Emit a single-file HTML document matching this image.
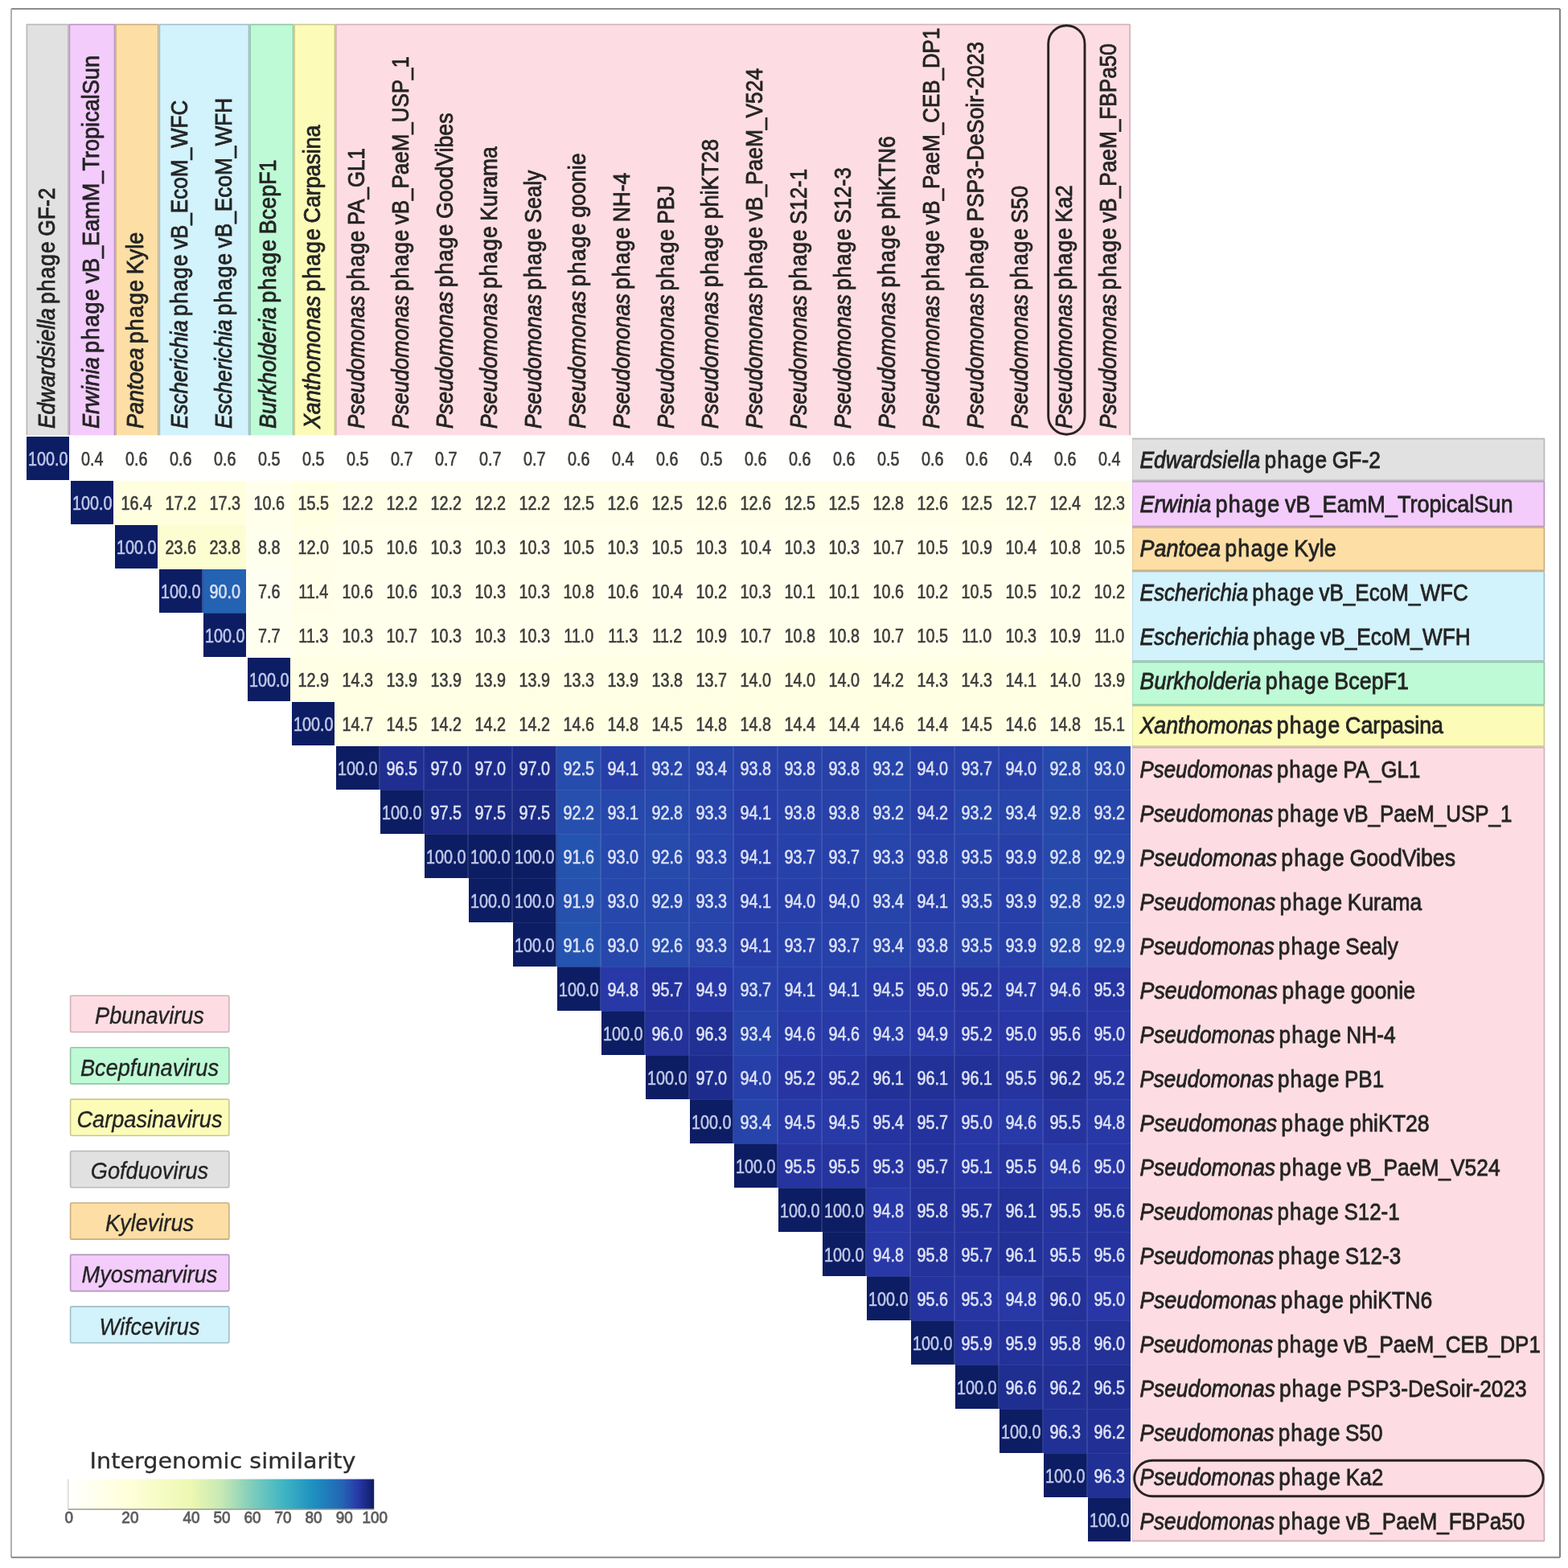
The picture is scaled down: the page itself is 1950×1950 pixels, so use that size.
<!DOCTYPE html>
<html><head><meta charset="utf-8"><title>Intergenomic similarity heatmap</title>
<style>html,body{margin:0;padding:0;background:#fff;width:1950px;height:1950px;overflow:hidden}svg{display:block}</style>
</head><body>
<svg width="1950" height="1950" viewBox="0 0 1950 1950">
<rect x="0" y="0" width="1950" height="1950" fill="#ffffff"/>
<line x1="14" y1="11" x2="1940" y2="11" stroke="#8c8c8c" stroke-width="1.8"/>
<line x1="14" y1="11" x2="14" y2="1936.7" stroke="#b0b0b0" stroke-width="2"/>
<line x1="1940" y1="11" x2="1940" y2="1936.7" stroke="#7a7a7a" stroke-width="1.9"/>
<line x1="14" y1="1936.7" x2="1940" y2="1936.7" stroke="#888888" stroke-width="1.9"/>
<rect x="32.60" y="29.70" width="53.00" height="511.60" fill="#e1e1e1"/>
<path d="M33.40,541.30 L33.40,30.50 L84.80,30.50 L84.80,541.30" fill="none" stroke="#b9b9b9" stroke-width="1.6" stroke-linejoin="round"/>
<rect x="85.60" y="29.70" width="57.70" height="511.60" fill="#f3ccfc"/>
<path d="M86.40,541.30 L86.40,30.50 L142.50,30.50 L142.50,541.30" fill="none" stroke="#b596bc" stroke-width="1.6" stroke-linejoin="round"/>
<rect x="143.30" y="29.70" width="54.30" height="511.60" fill="#fddfa5"/>
<path d="M144.10,541.30 L144.10,30.50 L196.80,30.50 L196.80,541.30" fill="none" stroke="#c9ad80" stroke-width="1.6" stroke-linejoin="round"/>
<rect x="197.60" y="29.70" width="112.70" height="511.60" fill="#d2f2fc"/>
<path d="M198.40,541.30 L198.40,30.50 L309.50,30.50 L309.50,541.30" fill="none" stroke="#a2bec6" stroke-width="1.6" stroke-linejoin="round"/>
<rect x="310.30" y="29.70" width="55.10" height="511.60" fill="#bdfad5"/>
<path d="M311.10,541.30 L311.10,30.50 L364.60,30.50 L364.60,541.30" fill="none" stroke="#92c4a6" stroke-width="1.6" stroke-linejoin="round"/>
<rect x="365.40" y="29.70" width="51.80" height="511.60" fill="#fcfcb8"/>
<path d="M366.20,541.30 L366.20,30.50 L416.40,30.50 L416.40,541.30" fill="none" stroke="#c8c890" stroke-width="1.6" stroke-linejoin="round"/>
<rect x="417.20" y="29.70" width="988.80" height="511.60" fill="#fddde3"/>
<path d="M418.00,541.30 L418.00,30.50 L1405.20,30.50 L1405.20,541.30" fill="none" stroke="#cfb2b8" stroke-width="1.6" stroke-linejoin="round"/>
<rect x="1408.00" y="544.80" width="513.20" height="53.40" fill="#e1e1e1"/>
<path d="M1408.00,545.60 L1920.40,545.60 L1920.40,597.40 L1408.00,597.40" fill="none" stroke="#b9b9b9" stroke-width="1.6" stroke-linejoin="round"/>
<line x1="1408.50" y1="546.40" x2="1408.50" y2="596.60" stroke="#b9b9b9" stroke-opacity="0.35" stroke-width="1"/>
<rect x="1408.00" y="598.20" width="513.20" height="57.10" fill="#f3ccfc"/>
<path d="M1408.00,599.00 L1920.40,599.00 L1920.40,654.50 L1408.00,654.50" fill="none" stroke="#b596bc" stroke-width="1.6" stroke-linejoin="round"/>
<line x1="1408.50" y1="599.80" x2="1408.50" y2="653.70" stroke="#b596bc" stroke-opacity="0.35" stroke-width="1"/>
<rect x="1408.00" y="655.30" width="513.20" height="54.70" fill="#fddfa5"/>
<path d="M1408.00,656.10 L1920.40,656.10 L1920.40,709.20 L1408.00,709.20" fill="none" stroke="#c9ad80" stroke-width="1.6" stroke-linejoin="round"/>
<line x1="1408.50" y1="656.90" x2="1408.50" y2="708.40" stroke="#c9ad80" stroke-opacity="0.35" stroke-width="1"/>
<rect x="1408.00" y="710.00" width="513.20" height="112.60" fill="#d2f2fc"/>
<path d="M1408.00,710.80 L1920.40,710.80 L1920.40,821.80 L1408.00,821.80" fill="none" stroke="#a2bec6" stroke-width="1.6" stroke-linejoin="round"/>
<line x1="1408.50" y1="711.60" x2="1408.50" y2="821.00" stroke="#a2bec6" stroke-opacity="0.35" stroke-width="1"/>
<rect x="1408.00" y="822.60" width="513.20" height="54.40" fill="#bdfad5"/>
<path d="M1408.00,823.40 L1920.40,823.40 L1920.40,876.20 L1408.00,876.20" fill="none" stroke="#92c4a6" stroke-width="1.6" stroke-linejoin="round"/>
<line x1="1408.50" y1="824.20" x2="1408.50" y2="875.40" stroke="#92c4a6" stroke-opacity="0.35" stroke-width="1"/>
<rect x="1408.00" y="877.00" width="513.20" height="51.80" fill="#fcfcb8"/>
<path d="M1408.00,877.80 L1920.40,877.80 L1920.40,928.00 L1408.00,928.00" fill="none" stroke="#c8c890" stroke-width="1.6" stroke-linejoin="round"/>
<line x1="1408.50" y1="878.60" x2="1408.50" y2="927.20" stroke="#c8c890" stroke-opacity="0.35" stroke-width="1"/>
<rect x="1408.00" y="928.80" width="513.20" height="988.40" fill="#fddde3"/>
<path d="M1408.00,929.60 L1920.40,929.60 L1920.40,1916.40 L1408.00,1916.40" fill="none" stroke="#cfb2b8" stroke-width="1.6" stroke-linejoin="round"/>
<line x1="1408.50" y1="930.40" x2="1408.50" y2="1915.60" stroke="#cfb2b8" stroke-opacity="0.35" stroke-width="1"/>
<g font-family="'Liberation Sans', Arial, sans-serif" font-size="29.0" fill="#242424" stroke="#242424" stroke-width="0.8">
<text transform="translate(68.43,533) rotate(-90) scale(0.9116,1)"><tspan font-style="italic">Edwardsiella</tspan><tspan word-spacing="-2.4"> </tspan><tspan letter-spacing="1.15">phage</tspan><tspan word-spacing="-2.0"> </tspan>GF-2</text>
<text transform="translate(123.43,533) rotate(-90) scale(0.9346,1)"><tspan font-style="italic">Erwinia</tspan><tspan word-spacing="-2.4"> </tspan><tspan letter-spacing="1.15">phage</tspan><tspan word-spacing="-2.0"> </tspan>vB_EamM_TropicalSun</text>
<text transform="translate(178.43,533) rotate(-90) scale(0.9305,1)"><tspan font-style="italic">Pantoea</tspan><tspan word-spacing="-2.4"> </tspan><tspan letter-spacing="1.15">phage</tspan><tspan word-spacing="-2.0"> </tspan>Kyle</text>
<text transform="translate(233.43,533) rotate(-90) scale(0.8988,1)"><tspan font-style="italic">Escherichia</tspan><tspan word-spacing="-2.4"> </tspan><tspan letter-spacing="1.15">phage</tspan><tspan word-spacing="-2.0"> </tspan>vB_EcoM_WFC</text>
<text transform="translate(288.43,533) rotate(-90) scale(0.9053,1)"><tspan font-style="italic">Escherichia</tspan><tspan word-spacing="-2.4"> </tspan><tspan letter-spacing="1.15">phage</tspan><tspan word-spacing="-2.0"> </tspan>vB_EcoM_WFH</text>
<text transform="translate(343.43,533) rotate(-90) scale(0.9274,1)"><tspan font-style="italic">Burkholderia</tspan><tspan word-spacing="-2.4"> </tspan><tspan letter-spacing="1.15">phage</tspan><tspan word-spacing="-2.0"> </tspan>BcepF1</text>
<text transform="translate(398.43,533) rotate(-90) scale(0.9227,1)"><tspan font-style="italic">Xanthomonas</tspan><tspan word-spacing="-2.4"> </tspan><tspan letter-spacing="1.15">phage</tspan><tspan word-spacing="-2.0"> </tspan>Carpasina</text>
<text transform="translate(453.43,533) rotate(-90) scale(0.8927,1)"><tspan font-style="italic">Pseudomonas</tspan><tspan word-spacing="-2.4"> </tspan><tspan letter-spacing="1.15">phage</tspan><tspan word-spacing="-2.0"> </tspan>PA_GL1</text>
<text transform="translate(508.43,533) rotate(-90) scale(0.8951,1)"><tspan font-style="italic">Pseudomonas</tspan><tspan word-spacing="-2.4"> </tspan><tspan letter-spacing="1.15">phage</tspan><tspan word-spacing="-2.0"> </tspan>vB_PaeM_USP_1</text>
<text transform="translate(563.43,533) rotate(-90) scale(0.9210,1)"><tspan font-style="italic">Pseudomonas</tspan><tspan word-spacing="-2.4"> </tspan><tspan letter-spacing="1.15">phage</tspan><tspan word-spacing="-2.0"> </tspan>GoodVibes</text>
<text transform="translate(618.43,533) rotate(-90) scale(0.9113,1)"><tspan font-style="italic">Pseudomonas</tspan><tspan word-spacing="-2.4"> </tspan><tspan letter-spacing="1.15">phage</tspan><tspan word-spacing="-2.0"> </tspan>Kurama</text>
<text transform="translate(673.43,533) rotate(-90) scale(0.9026,1)"><tspan font-style="italic">Pseudomonas</tspan><tspan word-spacing="-2.4"> </tspan><tspan letter-spacing="1.15">phage</tspan><tspan word-spacing="-2.0"> </tspan>Sealy</text>
<text transform="translate(728.43,533) rotate(-90) scale(0.9248,1)"><tspan font-style="italic">Pseudomonas</tspan><tspan word-spacing="-2.4"> </tspan><tspan letter-spacing="1.15">phage</tspan><tspan word-spacing="-2.0"> </tspan>goonie</text>
<text transform="translate(783.43,533) rotate(-90) scale(0.9065,1)"><tspan font-style="italic">Pseudomonas</tspan><tspan word-spacing="-2.4"> </tspan><tspan letter-spacing="1.15">phage</tspan><tspan word-spacing="-2.0"> </tspan>NH-4</text>
<text transform="translate(838.43,533) rotate(-90) scale(0.8979,1)"><tspan font-style="italic">Pseudomonas</tspan><tspan word-spacing="-2.4"> </tspan><tspan letter-spacing="1.15">phage</tspan><tspan word-spacing="-2.0"> </tspan>PBJ</text>
<text transform="translate(893.43,533) rotate(-90) scale(0.9200,1)"><tspan font-style="italic">Pseudomonas</tspan><tspan word-spacing="-2.4"> </tspan><tspan letter-spacing="1.15">phage</tspan><tspan word-spacing="-2.0"> </tspan>phiKT28</text>
<text transform="translate(948.43,533) rotate(-90) scale(0.9089,1)"><tspan font-style="italic">Pseudomonas</tspan><tspan word-spacing="-2.4"> </tspan><tspan letter-spacing="1.15">phage</tspan><tspan word-spacing="-2.0"> </tspan>vB_PaeM_V524</text>
<text transform="translate(1003.43,533) rotate(-90) scale(0.8960,1)"><tspan font-style="italic">Pseudomonas</tspan><tspan word-spacing="-2.4"> </tspan><tspan letter-spacing="1.15">phage</tspan><tspan word-spacing="-2.0"> </tspan>S12-1</text>
<text transform="translate(1058.43,533) rotate(-90) scale(0.9005,1)"><tspan font-style="italic">Pseudomonas</tspan><tspan word-spacing="-2.4"> </tspan><tspan letter-spacing="1.15">phage</tspan><tspan word-spacing="-2.0"> </tspan>S12-3</text>
<text transform="translate(1113.43,533) rotate(-90) scale(0.9180,1)"><tspan font-style="italic">Pseudomonas</tspan><tspan word-spacing="-2.4"> </tspan><tspan letter-spacing="1.15">phage</tspan><tspan word-spacing="-2.0"> </tspan>phiKTN6</text>
<text transform="translate(1168.43,533) rotate(-90) scale(0.8939,1)"><tspan font-style="italic">Pseudomonas</tspan><tspan word-spacing="-2.4"> </tspan><tspan letter-spacing="1.15">phage</tspan><tspan word-spacing="-2.0"> </tspan>vB_PaeM_CEB_DP1</text>
<text transform="translate(1223.43,533) rotate(-90) scale(0.9081,1)"><tspan font-style="italic">Pseudomonas</tspan><tspan word-spacing="-2.4"> </tspan><tspan letter-spacing="1.15">phage</tspan><tspan word-spacing="-2.0"> </tspan>PSP3-DeSoir-2023</text>
<text transform="translate(1278.43,533) rotate(-90) scale(0.9013,1)"><tspan font-style="italic">Pseudomonas</tspan><tspan word-spacing="-2.4"> </tspan><tspan letter-spacing="1.15">phage</tspan><tspan word-spacing="-2.0"> </tspan>S50</text>
<text transform="translate(1333.43,533) rotate(-90) scale(0.9043,1)"><tspan font-style="italic">Pseudomonas</tspan><tspan word-spacing="-2.4"> </tspan><tspan letter-spacing="1.15">phage</tspan><tspan word-spacing="-2.0"> </tspan>Ka2</text>
<text transform="translate(1388.43,533) rotate(-90) scale(0.9039,1)"><tspan font-style="italic">Pseudomonas</tspan><tspan word-spacing="-2.4"> </tspan><tspan letter-spacing="1.15">phage</tspan><tspan word-spacing="-2.0"> </tspan>vB_PaeM_FBPa50</text>
<text transform="translate(1417.5,581.73) scale(0.9116,1)"><tspan font-style="italic">Edwardsiella</tspan><tspan word-spacing="-2.4"> </tspan><tspan letter-spacing="1.15">phage</tspan><tspan word-spacing="-2.0"> </tspan>GF-2</text>
<text transform="translate(1417.5,636.73) scale(0.9346,1)"><tspan font-style="italic">Erwinia</tspan><tspan word-spacing="-2.4"> </tspan><tspan letter-spacing="1.15">phage</tspan><tspan word-spacing="-2.0"> </tspan>vB_EamM_TropicalSun</text>
<text transform="translate(1417.5,691.73) scale(0.9305,1)"><tspan font-style="italic">Pantoea</tspan><tspan word-spacing="-2.4"> </tspan><tspan letter-spacing="1.15">phage</tspan><tspan word-spacing="-2.0"> </tspan>Kyle</text>
<text transform="translate(1417.5,746.73) scale(0.8988,1)"><tspan font-style="italic">Escherichia</tspan><tspan word-spacing="-2.4"> </tspan><tspan letter-spacing="1.15">phage</tspan><tspan word-spacing="-2.0"> </tspan>vB_EcoM_WFC</text>
<text transform="translate(1417.5,801.73) scale(0.9053,1)"><tspan font-style="italic">Escherichia</tspan><tspan word-spacing="-2.4"> </tspan><tspan letter-spacing="1.15">phage</tspan><tspan word-spacing="-2.0"> </tspan>vB_EcoM_WFH</text>
<text transform="translate(1417.5,856.73) scale(0.9274,1)"><tspan font-style="italic">Burkholderia</tspan><tspan word-spacing="-2.4"> </tspan><tspan letter-spacing="1.15">phage</tspan><tspan word-spacing="-2.0"> </tspan>BcepF1</text>
<text transform="translate(1417.5,911.73) scale(0.9227,1)"><tspan font-style="italic">Xanthomonas</tspan><tspan word-spacing="-2.4"> </tspan><tspan letter-spacing="1.15">phage</tspan><tspan word-spacing="-2.0"> </tspan>Carpasina</text>
<text transform="translate(1417.5,966.73) scale(0.8927,1)"><tspan font-style="italic">Pseudomonas</tspan><tspan word-spacing="-2.4"> </tspan><tspan letter-spacing="1.15">phage</tspan><tspan word-spacing="-2.0"> </tspan>PA_GL1</text>
<text transform="translate(1417.5,1021.73) scale(0.8951,1)"><tspan font-style="italic">Pseudomonas</tspan><tspan word-spacing="-2.4"> </tspan><tspan letter-spacing="1.15">phage</tspan><tspan word-spacing="-2.0"> </tspan>vB_PaeM_USP_1</text>
<text transform="translate(1417.5,1076.73) scale(0.9210,1)"><tspan font-style="italic">Pseudomonas</tspan><tspan word-spacing="-2.4"> </tspan><tspan letter-spacing="1.15">phage</tspan><tspan word-spacing="-2.0"> </tspan>GoodVibes</text>
<text transform="translate(1417.5,1131.73) scale(0.9113,1)"><tspan font-style="italic">Pseudomonas</tspan><tspan word-spacing="-2.4"> </tspan><tspan letter-spacing="1.15">phage</tspan><tspan word-spacing="-2.0"> </tspan>Kurama</text>
<text transform="translate(1417.5,1186.73) scale(0.9026,1)"><tspan font-style="italic">Pseudomonas</tspan><tspan word-spacing="-2.4"> </tspan><tspan letter-spacing="1.15">phage</tspan><tspan word-spacing="-2.0"> </tspan>Sealy</text>
<text transform="translate(1417.5,1241.73) scale(0.9248,1)"><tspan font-style="italic">Pseudomonas</tspan><tspan word-spacing="-2.4"> </tspan><tspan letter-spacing="1.15">phage</tspan><tspan word-spacing="-2.0"> </tspan>goonie</text>
<text transform="translate(1417.5,1296.73) scale(0.9065,1)"><tspan font-style="italic">Pseudomonas</tspan><tspan word-spacing="-2.4"> </tspan><tspan letter-spacing="1.15">phage</tspan><tspan word-spacing="-2.0"> </tspan>NH-4</text>
<text transform="translate(1417.5,1351.73) scale(0.8979,1)"><tspan font-style="italic">Pseudomonas</tspan><tspan word-spacing="-2.4"> </tspan><tspan letter-spacing="1.15">phage</tspan><tspan word-spacing="-2.0"> </tspan>PB1</text>
<text transform="translate(1417.5,1406.73) scale(0.9200,1)"><tspan font-style="italic">Pseudomonas</tspan><tspan word-spacing="-2.4"> </tspan><tspan letter-spacing="1.15">phage</tspan><tspan word-spacing="-2.0"> </tspan>phiKT28</text>
<text transform="translate(1417.5,1461.73) scale(0.9089,1)"><tspan font-style="italic">Pseudomonas</tspan><tspan word-spacing="-2.4"> </tspan><tspan letter-spacing="1.15">phage</tspan><tspan word-spacing="-2.0"> </tspan>vB_PaeM_V524</text>
<text transform="translate(1417.5,1516.73) scale(0.8960,1)"><tspan font-style="italic">Pseudomonas</tspan><tspan word-spacing="-2.4"> </tspan><tspan letter-spacing="1.15">phage</tspan><tspan word-spacing="-2.0"> </tspan>S12-1</text>
<text transform="translate(1417.5,1571.73) scale(0.9005,1)"><tspan font-style="italic">Pseudomonas</tspan><tspan word-spacing="-2.4"> </tspan><tspan letter-spacing="1.15">phage</tspan><tspan word-spacing="-2.0"> </tspan>S12-3</text>
<text transform="translate(1417.5,1626.73) scale(0.9180,1)"><tspan font-style="italic">Pseudomonas</tspan><tspan word-spacing="-2.4"> </tspan><tspan letter-spacing="1.15">phage</tspan><tspan word-spacing="-2.0"> </tspan>phiKTN6</text>
<text transform="translate(1417.5,1681.73) scale(0.8939,1)"><tspan font-style="italic">Pseudomonas</tspan><tspan word-spacing="-2.4"> </tspan><tspan letter-spacing="1.15">phage</tspan><tspan word-spacing="-2.0"> </tspan>vB_PaeM_CEB_DP1</text>
<text transform="translate(1417.5,1736.73) scale(0.9081,1)"><tspan font-style="italic">Pseudomonas</tspan><tspan word-spacing="-2.4"> </tspan><tspan letter-spacing="1.15">phage</tspan><tspan word-spacing="-2.0"> </tspan>PSP3-DeSoir-2023</text>
<text transform="translate(1417.5,1791.73) scale(0.9013,1)"><tspan font-style="italic">Pseudomonas</tspan><tspan word-spacing="-2.4"> </tspan><tspan letter-spacing="1.15">phage</tspan><tspan word-spacing="-2.0"> </tspan>S50</text>
<text transform="translate(1417.5,1846.73) scale(0.9043,1)"><tspan font-style="italic">Pseudomonas</tspan><tspan word-spacing="-2.4"> </tspan><tspan letter-spacing="1.15">phage</tspan><tspan word-spacing="-2.0"> </tspan>Ka2</text>
<text transform="translate(1417.5,1901.73) scale(0.9039,1)"><tspan font-style="italic">Pseudomonas</tspan><tspan word-spacing="-2.4"> </tspan><tspan letter-spacing="1.15">phage</tspan><tspan word-spacing="-2.0"> </tspan>vB_PaeM_FBPa50</text>
</g>
<g shape-rendering="crispEdges"><rect x="32.5" y="543.0" width="53.5" height="53.5" fill="#0d1d64"/><rect x="86.0" y="543.0" width="1.5" height="53.5" fill="#fffffe"/><rect x="87.5" y="543.0" width="53.5" height="53.5" fill="#fffffe"/><rect x="141.0" y="543.0" width="1.5" height="53.5" fill="#fffffe"/><rect x="87.5" y="596.5" width="53.5" height="1.5" fill="#fffffe"/><rect x="141.0" y="596.5" width="1.5" height="1.5" fill="#fffffe"/><rect x="142.5" y="543.0" width="53.5" height="53.5" fill="#fffffe"/><rect x="196.0" y="543.0" width="1.5" height="53.5" fill="#fffffe"/><rect x="142.5" y="596.5" width="53.5" height="1.5" fill="#fffffe"/><rect x="196.0" y="596.5" width="1.5" height="1.5" fill="#fffffe"/><rect x="197.5" y="543.0" width="53.5" height="53.5" fill="#fffffe"/><rect x="251.0" y="543.0" width="1.5" height="53.5" fill="#fffffe"/><rect x="197.5" y="596.5" width="53.5" height="1.5" fill="#fffffe"/><rect x="251.0" y="596.5" width="1.5" height="1.5" fill="#fffffe"/><rect x="252.5" y="543.0" width="53.5" height="53.5" fill="#fffffe"/><rect x="306.0" y="543.0" width="1.5" height="53.5" fill="#fffffe"/><rect x="252.5" y="596.5" width="53.5" height="1.5" fill="#fffffe"/><rect x="306.0" y="596.5" width="1.5" height="1.5" fill="#fffffe"/><rect x="307.5" y="543.0" width="53.5" height="53.5" fill="#fffffe"/><rect x="361.0" y="543.0" width="1.5" height="53.5" fill="#fffffe"/><rect x="307.5" y="596.5" width="53.5" height="1.5" fill="#fffffe"/><rect x="361.0" y="596.5" width="1.5" height="1.5" fill="#fffffe"/><rect x="362.5" y="543.0" width="53.5" height="53.5" fill="#fffffe"/><rect x="416.0" y="543.0" width="1.5" height="53.5" fill="#fffffe"/><rect x="362.5" y="596.5" width="53.5" height="1.5" fill="#fffffe"/><rect x="416.0" y="596.5" width="1.5" height="1.5" fill="#fffffe"/><rect x="417.5" y="543.0" width="53.5" height="53.5" fill="#fffffe"/><rect x="471.0" y="543.0" width="1.5" height="53.5" fill="#fffffe"/><rect x="417.5" y="596.5" width="53.5" height="1.5" fill="#fffffe"/><rect x="471.0" y="596.5" width="1.5" height="1.5" fill="#fffffe"/><rect x="472.5" y="543.0" width="53.5" height="53.5" fill="#fffffe"/><rect x="526.0" y="543.0" width="1.5" height="53.5" fill="#fffffe"/><rect x="472.5" y="596.5" width="53.5" height="1.5" fill="#fffffe"/><rect x="526.0" y="596.5" width="1.5" height="1.5" fill="#fffffe"/><rect x="527.5" y="543.0" width="53.5" height="53.5" fill="#fffffe"/><rect x="581.0" y="543.0" width="1.5" height="53.5" fill="#fffffe"/><rect x="527.5" y="596.5" width="53.5" height="1.5" fill="#fffffe"/><rect x="581.0" y="596.5" width="1.5" height="1.5" fill="#fffffe"/><rect x="582.5" y="543.0" width="53.5" height="53.5" fill="#fffffe"/><rect x="636.0" y="543.0" width="1.5" height="53.5" fill="#fffffe"/><rect x="582.5" y="596.5" width="53.5" height="1.5" fill="#fffffe"/><rect x="636.0" y="596.5" width="1.5" height="1.5" fill="#fffffe"/><rect x="637.5" y="543.0" width="53.5" height="53.5" fill="#fffffe"/><rect x="691.0" y="543.0" width="1.5" height="53.5" fill="#fffffe"/><rect x="637.5" y="596.5" width="53.5" height="1.5" fill="#fffffe"/><rect x="691.0" y="596.5" width="1.5" height="1.5" fill="#fffffe"/><rect x="692.5" y="543.0" width="53.5" height="53.5" fill="#fffffe"/><rect x="746.0" y="543.0" width="1.5" height="53.5" fill="#fffffe"/><rect x="692.5" y="596.5" width="53.5" height="1.5" fill="#fffffe"/><rect x="746.0" y="596.5" width="1.5" height="1.5" fill="#fffffe"/><rect x="747.5" y="543.0" width="53.5" height="53.5" fill="#fffffe"/><rect x="801.0" y="543.0" width="1.5" height="53.5" fill="#fffffe"/><rect x="747.5" y="596.5" width="53.5" height="1.5" fill="#fffffe"/><rect x="801.0" y="596.5" width="1.5" height="1.5" fill="#fffffe"/><rect x="802.5" y="543.0" width="53.5" height="53.5" fill="#fffffe"/><rect x="856.0" y="543.0" width="1.5" height="53.5" fill="#fffffe"/><rect x="802.5" y="596.5" width="53.5" height="1.5" fill="#fffffe"/><rect x="856.0" y="596.5" width="1.5" height="1.5" fill="#fffffe"/><rect x="857.5" y="543.0" width="53.5" height="53.5" fill="#fffffe"/><rect x="911.0" y="543.0" width="1.5" height="53.5" fill="#fffffe"/><rect x="857.5" y="596.5" width="53.5" height="1.5" fill="#fffffe"/><rect x="911.0" y="596.5" width="1.5" height="1.5" fill="#fffffe"/><rect x="912.5" y="543.0" width="53.5" height="53.5" fill="#fffffe"/><rect x="966.0" y="543.0" width="1.5" height="53.5" fill="#fffffe"/><rect x="912.5" y="596.5" width="53.5" height="1.5" fill="#fffffe"/><rect x="966.0" y="596.5" width="1.5" height="1.5" fill="#fffffe"/><rect x="967.5" y="543.0" width="53.5" height="53.5" fill="#fffffe"/><rect x="1021.0" y="543.0" width="1.5" height="53.5" fill="#fffffe"/><rect x="967.5" y="596.5" width="53.5" height="1.5" fill="#fffffe"/><rect x="1021.0" y="596.5" width="1.5" height="1.5" fill="#fffffe"/><rect x="1022.5" y="543.0" width="53.5" height="53.5" fill="#fffffe"/><rect x="1076.0" y="543.0" width="1.5" height="53.5" fill="#fffffe"/><rect x="1022.5" y="596.5" width="53.5" height="1.5" fill="#fffffe"/><rect x="1076.0" y="596.5" width="1.5" height="1.5" fill="#fffffe"/><rect x="1077.5" y="543.0" width="53.5" height="53.5" fill="#fffffe"/><rect x="1131.0" y="543.0" width="1.5" height="53.5" fill="#fffffe"/><rect x="1077.5" y="596.5" width="53.5" height="1.5" fill="#fffffe"/><rect x="1131.0" y="596.5" width="1.5" height="1.5" fill="#fffffe"/><rect x="1132.5" y="543.0" width="53.5" height="53.5" fill="#fffffe"/><rect x="1186.0" y="543.0" width="1.5" height="53.5" fill="#fffffe"/><rect x="1132.5" y="596.5" width="53.5" height="1.5" fill="#fffffe"/><rect x="1186.0" y="596.5" width="1.5" height="1.5" fill="#fffffe"/><rect x="1187.5" y="543.0" width="53.5" height="53.5" fill="#fffffe"/><rect x="1241.0" y="543.0" width="1.5" height="53.5" fill="#fffffe"/><rect x="1187.5" y="596.5" width="53.5" height="1.5" fill="#fffffe"/><rect x="1241.0" y="596.5" width="1.5" height="1.5" fill="#fffffe"/><rect x="1242.5" y="543.0" width="53.5" height="53.5" fill="#fffffe"/><rect x="1296.0" y="543.0" width="1.5" height="53.5" fill="#fffffe"/><rect x="1242.5" y="596.5" width="53.5" height="1.5" fill="#fffffe"/><rect x="1296.0" y="596.5" width="1.5" height="1.5" fill="#fffffe"/><rect x="1297.5" y="543.0" width="53.5" height="53.5" fill="#fffffe"/><rect x="1351.0" y="543.0" width="1.5" height="53.5" fill="#fffffe"/><rect x="1297.5" y="596.5" width="53.5" height="1.5" fill="#fffffe"/><rect x="1351.0" y="596.5" width="1.5" height="1.5" fill="#fffffe"/><rect x="1352.5" y="543.0" width="53.5" height="53.5" fill="#fffffe"/><rect x="1352.5" y="596.5" width="53.5" height="1.5" fill="#fffffe"/><rect x="87.5" y="598.0" width="53.5" height="53.5" fill="#0d1d64"/><rect x="141.0" y="598.0" width="1.5" height="53.5" fill="#ffffe0"/><rect x="142.5" y="598.0" width="53.5" height="53.5" fill="#ffffe0"/><rect x="196.0" y="598.0" width="1.5" height="53.5" fill="#ffffe0"/><rect x="142.5" y="651.5" width="53.5" height="1.5" fill="#ffffe9"/><rect x="196.0" y="651.5" width="1.5" height="1.5" fill="#ffffe0"/><rect x="197.5" y="598.0" width="53.5" height="53.5" fill="#ffffde"/><rect x="251.0" y="598.0" width="1.5" height="53.5" fill="#ffffde"/><rect x="197.5" y="651.5" width="53.5" height="1.5" fill="#ffffde"/><rect x="251.0" y="651.5" width="1.5" height="1.5" fill="#ffffde"/><rect x="252.5" y="598.0" width="53.5" height="53.5" fill="#ffffde"/><rect x="306.0" y="598.0" width="1.5" height="53.5" fill="#ffffeb"/><rect x="252.5" y="651.5" width="53.5" height="1.5" fill="#ffffde"/><rect x="306.0" y="651.5" width="1.5" height="1.5" fill="#ffffee"/><rect x="307.5" y="598.0" width="53.5" height="53.5" fill="#ffffeb"/><rect x="361.0" y="598.0" width="1.5" height="53.5" fill="#ffffeb"/><rect x="307.5" y="651.5" width="53.5" height="1.5" fill="#ffffeb"/><rect x="361.0" y="651.5" width="1.5" height="1.5" fill="#ffffee"/><rect x="362.5" y="598.0" width="53.5" height="53.5" fill="#ffffe2"/><rect x="416.0" y="598.0" width="1.5" height="53.5" fill="#ffffe8"/><rect x="362.5" y="651.5" width="53.5" height="1.5" fill="#ffffe2"/><rect x="416.0" y="651.5" width="1.5" height="1.5" fill="#ffffeb"/><rect x="417.5" y="598.0" width="53.5" height="53.5" fill="#ffffe8"/><rect x="471.0" y="598.0" width="1.5" height="53.5" fill="#ffffe8"/><rect x="417.5" y="651.5" width="53.5" height="1.5" fill="#ffffe8"/><rect x="471.0" y="651.5" width="1.5" height="1.5" fill="#ffffeb"/><rect x="472.5" y="598.0" width="53.5" height="53.5" fill="#ffffe8"/><rect x="526.0" y="598.0" width="1.5" height="53.5" fill="#ffffe8"/><rect x="472.5" y="651.5" width="53.5" height="1.5" fill="#ffffe8"/><rect x="526.0" y="651.5" width="1.5" height="1.5" fill="#ffffeb"/><rect x="527.5" y="598.0" width="53.5" height="53.5" fill="#ffffe8"/><rect x="581.0" y="598.0" width="1.5" height="53.5" fill="#ffffe8"/><rect x="527.5" y="651.5" width="53.5" height="1.5" fill="#ffffe8"/><rect x="581.0" y="651.5" width="1.5" height="1.5" fill="#ffffeb"/><rect x="582.5" y="598.0" width="53.5" height="53.5" fill="#ffffe8"/><rect x="636.0" y="598.0" width="1.5" height="53.5" fill="#ffffe8"/><rect x="582.5" y="651.5" width="53.5" height="1.5" fill="#ffffe8"/><rect x="636.0" y="651.5" width="1.5" height="1.5" fill="#ffffeb"/><rect x="637.5" y="598.0" width="53.5" height="53.5" fill="#ffffe8"/><rect x="691.0" y="598.0" width="1.5" height="53.5" fill="#ffffe8"/><rect x="637.5" y="651.5" width="53.5" height="1.5" fill="#ffffe8"/><rect x="691.0" y="651.5" width="1.5" height="1.5" fill="#ffffeb"/><rect x="692.5" y="598.0" width="53.5" height="53.5" fill="#ffffe7"/><rect x="746.0" y="598.0" width="1.5" height="53.5" fill="#ffffe7"/><rect x="692.5" y="651.5" width="53.5" height="1.5" fill="#ffffe7"/><rect x="746.0" y="651.5" width="1.5" height="1.5" fill="#ffffeb"/><rect x="747.5" y="598.0" width="53.5" height="53.5" fill="#ffffe7"/><rect x="801.0" y="598.0" width="1.5" height="53.5" fill="#ffffe7"/><rect x="747.5" y="651.5" width="53.5" height="1.5" fill="#ffffe7"/><rect x="801.0" y="651.5" width="1.5" height="1.5" fill="#ffffeb"/><rect x="802.5" y="598.0" width="53.5" height="53.5" fill="#ffffe7"/><rect x="856.0" y="598.0" width="1.5" height="53.5" fill="#ffffe7"/><rect x="802.5" y="651.5" width="53.5" height="1.5" fill="#ffffe7"/><rect x="856.0" y="651.5" width="1.5" height="1.5" fill="#ffffeb"/><rect x="857.5" y="598.0" width="53.5" height="53.5" fill="#ffffe7"/><rect x="911.0" y="598.0" width="1.5" height="53.5" fill="#ffffe7"/><rect x="857.5" y="651.5" width="53.5" height="1.5" fill="#ffffe7"/><rect x="911.0" y="651.5" width="1.5" height="1.5" fill="#ffffeb"/><rect x="912.5" y="598.0" width="53.5" height="53.5" fill="#ffffe7"/><rect x="966.0" y="598.0" width="1.5" height="53.5" fill="#ffffe7"/><rect x="912.5" y="651.5" width="53.5" height="1.5" fill="#ffffe7"/><rect x="966.0" y="651.5" width="1.5" height="1.5" fill="#ffffeb"/><rect x="967.5" y="598.0" width="53.5" height="53.5" fill="#ffffe7"/><rect x="1021.0" y="598.0" width="1.5" height="53.5" fill="#ffffe7"/><rect x="967.5" y="651.5" width="53.5" height="1.5" fill="#ffffe7"/><rect x="1021.0" y="651.5" width="1.5" height="1.5" fill="#ffffeb"/><rect x="1022.5" y="598.0" width="53.5" height="53.5" fill="#ffffe7"/><rect x="1076.0" y="598.0" width="1.5" height="53.5" fill="#ffffe7"/><rect x="1022.5" y="651.5" width="53.5" height="1.5" fill="#ffffe7"/><rect x="1076.0" y="651.5" width="1.5" height="1.5" fill="#ffffeb"/><rect x="1077.5" y="598.0" width="53.5" height="53.5" fill="#ffffe7"/><rect x="1131.0" y="598.0" width="1.5" height="53.5" fill="#ffffe7"/><rect x="1077.5" y="651.5" width="53.5" height="1.5" fill="#ffffe7"/><rect x="1131.0" y="651.5" width="1.5" height="1.5" fill="#ffffeb"/><rect x="1132.5" y="598.0" width="53.5" height="53.5" fill="#ffffe7"/><rect x="1186.0" y="598.0" width="1.5" height="53.5" fill="#ffffe7"/><rect x="1132.5" y="651.5" width="53.5" height="1.5" fill="#ffffe7"/><rect x="1186.0" y="651.5" width="1.5" height="1.5" fill="#ffffeb"/><rect x="1187.5" y="598.0" width="53.5" height="53.5" fill="#ffffe7"/><rect x="1241.0" y="598.0" width="1.5" height="53.5" fill="#ffffe7"/><rect x="1187.5" y="651.5" width="53.5" height="1.5" fill="#ffffe7"/><rect x="1241.0" y="651.5" width="1.5" height="1.5" fill="#ffffeb"/><rect x="1242.5" y="598.0" width="53.5" height="53.5" fill="#ffffe7"/><rect x="1296.0" y="598.0" width="1.5" height="53.5" fill="#ffffe7"/><rect x="1242.5" y="651.5" width="53.5" height="1.5" fill="#ffffe7"/><rect x="1296.0" y="651.5" width="1.5" height="1.5" fill="#ffffeb"/><rect x="1297.5" y="598.0" width="53.5" height="53.5" fill="#ffffe7"/><rect x="1351.0" y="598.0" width="1.5" height="53.5" fill="#ffffe8"/><rect x="1297.5" y="651.5" width="53.5" height="1.5" fill="#ffffe7"/><rect x="1351.0" y="651.5" width="1.5" height="1.5" fill="#ffffeb"/><rect x="1352.5" y="598.0" width="53.5" height="53.5" fill="#ffffe8"/><rect x="1352.5" y="651.5" width="53.5" height="1.5" fill="#ffffe8"/><rect x="142.5" y="653.0" width="53.5" height="53.5" fill="#0d1d64"/><rect x="196.0" y="653.0" width="1.5" height="53.5" fill="#fcfed2"/><rect x="197.5" y="653.0" width="53.5" height="53.5" fill="#fcfed2"/><rect x="251.0" y="653.0" width="1.5" height="53.5" fill="#fcfed2"/><rect x="197.5" y="706.5" width="53.5" height="1.5" fill="#fdfee0"/><rect x="251.0" y="706.5" width="1.5" height="1.5" fill="#fcfed2"/><rect x="252.5" y="653.0" width="53.5" height="53.5" fill="#fcfed1"/><rect x="306.0" y="653.0" width="1.5" height="53.5" fill="#ffffee"/><rect x="252.5" y="706.5" width="53.5" height="1.5" fill="#fdfedf"/><rect x="306.0" y="706.5" width="1.5" height="1.5" fill="#fffff1"/><rect x="307.5" y="653.0" width="53.5" height="53.5" fill="#ffffee"/><rect x="361.0" y="653.0" width="1.5" height="53.5" fill="#ffffee"/><rect x="307.5" y="706.5" width="53.5" height="1.5" fill="#ffffee"/><rect x="361.0" y="706.5" width="1.5" height="1.5" fill="#fffff1"/><rect x="362.5" y="653.0" width="53.5" height="53.5" fill="#ffffe8"/><rect x="416.0" y="653.0" width="1.5" height="53.5" fill="#ffffeb"/><rect x="362.5" y="706.5" width="53.5" height="1.5" fill="#ffffe8"/><rect x="416.0" y="706.5" width="1.5" height="1.5" fill="#ffffeb"/><rect x="417.5" y="653.0" width="53.5" height="53.5" fill="#ffffeb"/><rect x="471.0" y="653.0" width="1.5" height="53.5" fill="#ffffeb"/><rect x="417.5" y="706.5" width="53.5" height="1.5" fill="#ffffeb"/><rect x="471.0" y="706.5" width="1.5" height="1.5" fill="#ffffeb"/><rect x="472.5" y="653.0" width="53.5" height="53.5" fill="#ffffeb"/><rect x="526.0" y="653.0" width="1.5" height="53.5" fill="#ffffeb"/><rect x="472.5" y="706.5" width="53.5" height="1.5" fill="#ffffeb"/><rect x="526.0" y="706.5" width="1.5" height="1.5" fill="#ffffeb"/><rect x="527.5" y="653.0" width="53.5" height="53.5" fill="#ffffeb"/><rect x="581.0" y="653.0" width="1.5" height="53.5" fill="#ffffeb"/><rect x="527.5" y="706.5" width="53.5" height="1.5" fill="#ffffeb"/><rect x="581.0" y="706.5" width="1.5" height="1.5" fill="#ffffeb"/><rect x="582.5" y="653.0" width="53.5" height="53.5" fill="#ffffeb"/><rect x="636.0" y="653.0" width="1.5" height="53.5" fill="#ffffeb"/><rect x="582.5" y="706.5" width="53.5" height="1.5" fill="#ffffeb"/><rect x="636.0" y="706.5" width="1.5" height="1.5" fill="#ffffeb"/><rect x="637.5" y="653.0" width="53.5" height="53.5" fill="#ffffeb"/><rect x="691.0" y="653.0" width="1.5" height="53.5" fill="#ffffeb"/><rect x="637.5" y="706.5" width="53.5" height="1.5" fill="#ffffeb"/><rect x="691.0" y="706.5" width="1.5" height="1.5" fill="#ffffeb"/><rect x="692.5" y="653.0" width="53.5" height="53.5" fill="#ffffeb"/><rect x="746.0" y="653.0" width="1.5" height="53.5" fill="#ffffeb"/><rect x="692.5" y="706.5" width="53.5" height="1.5" fill="#ffffeb"/><rect x="746.0" y="706.5" width="1.5" height="1.5" fill="#ffffeb"/><rect x="747.5" y="653.0" width="53.5" height="53.5" fill="#ffffeb"/><rect x="801.0" y="653.0" width="1.5" height="53.5" fill="#ffffeb"/><rect x="747.5" y="706.5" width="53.5" height="1.5" fill="#ffffeb"/><rect x="801.0" y="706.5" width="1.5" height="1.5" fill="#ffffeb"/><rect x="802.5" y="653.0" width="53.5" height="53.5" fill="#ffffeb"/><rect x="856.0" y="653.0" width="1.5" height="53.5" fill="#ffffeb"/><rect x="802.5" y="706.5" width="53.5" height="1.5" fill="#ffffeb"/><rect x="856.0" y="706.5" width="1.5" height="1.5" fill="#ffffec"/><rect x="857.5" y="653.0" width="53.5" height="53.5" fill="#ffffeb"/><rect x="911.0" y="653.0" width="1.5" height="53.5" fill="#ffffeb"/><rect x="857.5" y="706.5" width="53.5" height="1.5" fill="#ffffeb"/><rect x="911.0" y="706.5" width="1.5" height="1.5" fill="#ffffec"/><rect x="912.5" y="653.0" width="53.5" height="53.5" fill="#ffffeb"/><rect x="966.0" y="653.0" width="1.5" height="53.5" fill="#ffffeb"/><rect x="912.5" y="706.5" width="53.5" height="1.5" fill="#ffffeb"/><rect x="966.0" y="706.5" width="1.5" height="1.5" fill="#ffffec"/><rect x="967.5" y="653.0" width="53.5" height="53.5" fill="#ffffeb"/><rect x="1021.0" y="653.0" width="1.5" height="53.5" fill="#ffffeb"/><rect x="967.5" y="706.5" width="53.5" height="1.5" fill="#ffffeb"/><rect x="1021.0" y="706.5" width="1.5" height="1.5" fill="#ffffec"/><rect x="1022.5" y="653.0" width="53.5" height="53.5" fill="#ffffeb"/><rect x="1076.0" y="653.0" width="1.5" height="53.5" fill="#ffffeb"/><rect x="1022.5" y="706.5" width="53.5" height="1.5" fill="#ffffeb"/><rect x="1076.0" y="706.5" width="1.5" height="1.5" fill="#ffffec"/><rect x="1077.5" y="653.0" width="53.5" height="53.5" fill="#ffffeb"/><rect x="1131.0" y="653.0" width="1.5" height="53.5" fill="#ffffeb"/><rect x="1077.5" y="706.5" width="53.5" height="1.5" fill="#ffffeb"/><rect x="1131.0" y="706.5" width="1.5" height="1.5" fill="#ffffec"/><rect x="1132.5" y="653.0" width="53.5" height="53.5" fill="#ffffeb"/><rect x="1186.0" y="653.0" width="1.5" height="53.5" fill="#ffffeb"/><rect x="1132.5" y="706.5" width="53.5" height="1.5" fill="#ffffeb"/><rect x="1186.0" y="706.5" width="1.5" height="1.5" fill="#ffffec"/><rect x="1187.5" y="653.0" width="53.5" height="53.5" fill="#ffffea"/><rect x="1241.0" y="653.0" width="1.5" height="53.5" fill="#ffffeb"/><rect x="1187.5" y="706.5" width="53.5" height="1.5" fill="#ffffea"/><rect x="1241.0" y="706.5" width="1.5" height="1.5" fill="#ffffeb"/><rect x="1242.5" y="653.0" width="53.5" height="53.5" fill="#ffffeb"/><rect x="1296.0" y="653.0" width="1.5" height="53.5" fill="#ffffeb"/><rect x="1242.5" y="706.5" width="53.5" height="1.5" fill="#ffffeb"/><rect x="1296.0" y="706.5" width="1.5" height="1.5" fill="#ffffec"/><rect x="1297.5" y="653.0" width="53.5" height="53.5" fill="#ffffea"/><rect x="1351.0" y="653.0" width="1.5" height="53.5" fill="#ffffeb"/><rect x="1297.5" y="706.5" width="53.5" height="1.5" fill="#ffffea"/><rect x="1351.0" y="706.5" width="1.5" height="1.5" fill="#ffffec"/><rect x="1352.5" y="653.0" width="53.5" height="53.5" fill="#ffffeb"/><rect x="1352.5" y="706.5" width="53.5" height="1.5" fill="#ffffeb"/><rect x="197.5" y="708.0" width="53.5" height="53.5" fill="#0d1d64"/><rect x="251.0" y="708.0" width="1.5" height="53.5" fill="#305398"/><rect x="252.5" y="708.0" width="53.5" height="53.5" fill="#2462b4"/><rect x="306.0" y="708.0" width="1.5" height="53.5" fill="#fffff1"/><rect x="252.5" y="761.5" width="53.5" height="1.5" fill="#294d94"/><rect x="306.0" y="761.5" width="1.5" height="1.5" fill="#fffff1"/><rect x="307.5" y="708.0" width="53.5" height="53.5" fill="#fffff1"/><rect x="361.0" y="708.0" width="1.5" height="53.5" fill="#fffff1"/><rect x="307.5" y="761.5" width="53.5" height="1.5" fill="#fffff1"/><rect x="361.0" y="761.5" width="1.5" height="1.5" fill="#fffff1"/><rect x="362.5" y="708.0" width="53.5" height="53.5" fill="#ffffe9"/><rect x="416.0" y="708.0" width="1.5" height="53.5" fill="#ffffeb"/><rect x="362.5" y="761.5" width="53.5" height="1.5" fill="#ffffe9"/><rect x="416.0" y="761.5" width="1.5" height="1.5" fill="#ffffeb"/><rect x="417.5" y="708.0" width="53.5" height="53.5" fill="#ffffeb"/><rect x="471.0" y="708.0" width="1.5" height="53.5" fill="#ffffeb"/><rect x="417.5" y="761.5" width="53.5" height="1.5" fill="#ffffeb"/><rect x="471.0" y="761.5" width="1.5" height="1.5" fill="#ffffeb"/><rect x="472.5" y="708.0" width="53.5" height="53.5" fill="#ffffeb"/><rect x="526.0" y="708.0" width="1.5" height="53.5" fill="#ffffeb"/><rect x="472.5" y="761.5" width="53.5" height="1.5" fill="#ffffeb"/><rect x="526.0" y="761.5" width="1.5" height="1.5" fill="#ffffeb"/><rect x="527.5" y="708.0" width="53.5" height="53.5" fill="#ffffeb"/><rect x="581.0" y="708.0" width="1.5" height="53.5" fill="#ffffeb"/><rect x="527.5" y="761.5" width="53.5" height="1.5" fill="#ffffeb"/><rect x="581.0" y="761.5" width="1.5" height="1.5" fill="#ffffeb"/><rect x="582.5" y="708.0" width="53.5" height="53.5" fill="#ffffeb"/><rect x="636.0" y="708.0" width="1.5" height="53.5" fill="#ffffeb"/><rect x="582.5" y="761.5" width="53.5" height="1.5" fill="#ffffeb"/><rect x="636.0" y="761.5" width="1.5" height="1.5" fill="#ffffeb"/><rect x="637.5" y="708.0" width="53.5" height="53.5" fill="#ffffeb"/><rect x="691.0" y="708.0" width="1.5" height="53.5" fill="#ffffeb"/><rect x="637.5" y="761.5" width="53.5" height="1.5" fill="#ffffeb"/><rect x="691.0" y="761.5" width="1.5" height="1.5" fill="#ffffeb"/><rect x="692.5" y="708.0" width="53.5" height="53.5" fill="#ffffea"/><rect x="746.0" y="708.0" width="1.5" height="53.5" fill="#ffffeb"/><rect x="692.5" y="761.5" width="53.5" height="1.5" fill="#ffffea"/><rect x="746.0" y="761.5" width="1.5" height="1.5" fill="#ffffeb"/><rect x="747.5" y="708.0" width="53.5" height="53.5" fill="#ffffeb"/><rect x="801.0" y="708.0" width="1.5" height="53.5" fill="#ffffeb"/><rect x="747.5" y="761.5" width="53.5" height="1.5" fill="#ffffeb"/><rect x="801.0" y="761.5" width="1.5" height="1.5" fill="#ffffeb"/><rect x="802.5" y="708.0" width="53.5" height="53.5" fill="#ffffeb"/><rect x="856.0" y="708.0" width="1.5" height="53.5" fill="#ffffec"/><rect x="802.5" y="761.5" width="53.5" height="1.5" fill="#ffffeb"/><rect x="856.0" y="761.5" width="1.5" height="1.5" fill="#ffffec"/><rect x="857.5" y="708.0" width="53.5" height="53.5" fill="#ffffec"/><rect x="911.0" y="708.0" width="1.5" height="53.5" fill="#ffffec"/><rect x="857.5" y="761.5" width="53.5" height="1.5" fill="#ffffec"/><rect x="911.0" y="761.5" width="1.5" height="1.5" fill="#ffffec"/><rect x="912.5" y="708.0" width="53.5" height="53.5" fill="#ffffeb"/><rect x="966.0" y="708.0" width="1.5" height="53.5" fill="#ffffec"/><rect x="912.5" y="761.5" width="53.5" height="1.5" fill="#ffffeb"/><rect x="966.0" y="761.5" width="1.5" height="1.5" fill="#ffffec"/><rect x="967.5" y="708.0" width="53.5" height="53.5" fill="#ffffec"/><rect x="1021.0" y="708.0" width="1.5" height="53.5" fill="#ffffec"/><rect x="967.5" y="761.5" width="53.5" height="1.5" fill="#ffffec"/><rect x="1021.0" y="761.5" width="1.5" height="1.5" fill="#ffffec"/><rect x="1022.5" y="708.0" width="53.5" height="53.5" fill="#ffffec"/><rect x="1076.0" y="708.0" width="1.5" height="53.5" fill="#ffffec"/><rect x="1022.5" y="761.5" width="53.5" height="1.5" fill="#ffffec"/><rect x="1076.0" y="761.5" width="1.5" height="1.5" fill="#ffffec"/><rect x="1077.5" y="708.0" width="53.5" height="53.5" fill="#ffffeb"/><rect x="1131.0" y="708.0" width="1.5" height="53.5" fill="#ffffec"/><rect x="1077.5" y="761.5" width="53.5" height="1.5" fill="#ffffeb"/><rect x="1131.0" y="761.5" width="1.5" height="1.5" fill="#ffffec"/><rect x="1132.5" y="708.0" width="53.5" height="53.5" fill="#ffffec"/><rect x="1186.0" y="708.0" width="1.5" height="53.5" fill="#ffffec"/><rect x="1132.5" y="761.5" width="53.5" height="1.5" fill="#ffffec"/><rect x="1186.0" y="761.5" width="1.5" height="1.5" fill="#ffffec"/><rect x="1187.5" y="708.0" width="53.5" height="53.5" fill="#ffffeb"/><rect x="1241.0" y="708.0" width="1.5" height="53.5" fill="#ffffeb"/><rect x="1187.5" y="761.5" width="53.5" height="1.5" fill="#ffffeb"/><rect x="1241.0" y="761.5" width="1.5" height="1.5" fill="#ffffeb"/><rect x="1242.5" y="708.0" width="53.5" height="53.5" fill="#ffffeb"/><rect x="1296.0" y="708.0" width="1.5" height="53.5" fill="#ffffec"/><rect x="1242.5" y="761.5" width="53.5" height="1.5" fill="#ffffeb"/><rect x="1296.0" y="761.5" width="1.5" height="1.5" fill="#ffffec"/><rect x="1297.5" y="708.0" width="53.5" height="53.5" fill="#ffffec"/><rect x="1351.0" y="708.0" width="1.5" height="53.5" fill="#ffffec"/><rect x="1297.5" y="761.5" width="53.5" height="1.5" fill="#ffffec"/><rect x="1351.0" y="761.5" width="1.5" height="1.5" fill="#ffffec"/><rect x="1352.5" y="708.0" width="53.5" height="53.5" fill="#ffffec"/><rect x="1352.5" y="761.5" width="53.5" height="1.5" fill="#ffffec"/><rect x="252.5" y="763.0" width="53.5" height="53.5" fill="#0d1d64"/><rect x="306.0" y="763.0" width="1.5" height="53.5" fill="#fffff0"/><rect x="307.5" y="763.0" width="53.5" height="53.5" fill="#fffff0"/><rect x="361.0" y="763.0" width="1.5" height="53.5" fill="#fffff0"/><rect x="307.5" y="816.5" width="53.5" height="1.5" fill="#fffff4"/><rect x="361.0" y="816.5" width="1.5" height="1.5" fill="#fffff0"/><rect x="362.5" y="763.0" width="53.5" height="53.5" fill="#ffffea"/><rect x="416.0" y="763.0" width="1.5" height="53.5" fill="#ffffeb"/><rect x="362.5" y="816.5" width="53.5" height="1.5" fill="#ffffea"/><rect x="416.0" y="816.5" width="1.5" height="1.5" fill="#ffffeb"/><rect x="417.5" y="763.0" width="53.5" height="53.5" fill="#ffffeb"/><rect x="471.0" y="763.0" width="1.5" height="53.5" fill="#ffffeb"/><rect x="417.5" y="816.5" width="53.5" height="1.5" fill="#ffffeb"/><rect x="471.0" y="816.5" width="1.5" height="1.5" fill="#ffffeb"/><rect x="472.5" y="763.0" width="53.5" height="53.5" fill="#ffffeb"/><rect x="526.0" y="763.0" width="1.5" height="53.5" fill="#ffffeb"/><rect x="472.5" y="816.5" width="53.5" height="1.5" fill="#ffffeb"/><rect x="526.0" y="816.5" width="1.5" height="1.5" fill="#ffffeb"/><rect x="527.5" y="763.0" width="53.5" height="53.5" fill="#ffffeb"/><rect x="581.0" y="763.0" width="1.5" height="53.5" fill="#ffffeb"/><rect x="527.5" y="816.5" width="53.5" height="1.5" fill="#ffffeb"/><rect x="581.0" y="816.5" width="1.5" height="1.5" fill="#ffffeb"/><rect x="582.5" y="763.0" width="53.5" height="53.5" fill="#ffffeb"/><rect x="636.0" y="763.0" width="1.5" height="53.5" fill="#ffffeb"/><rect x="582.5" y="816.5" width="53.5" height="1.5" fill="#ffffeb"/><rect x="636.0" y="816.5" width="1.5" height="1.5" fill="#ffffeb"/><rect x="637.5" y="763.0" width="53.5" height="53.5" fill="#ffffeb"/><rect x="691.0" y="763.0" width="1.5" height="53.5" fill="#ffffeb"/><rect x="637.5" y="816.5" width="53.5" height="1.5" fill="#ffffeb"/><rect x="691.0" y="816.5" width="1.5" height="1.5" fill="#ffffeb"/><rect x="692.5" y="763.0" width="53.5" height="53.5" fill="#ffffea"/><rect x="746.0" y="763.0" width="1.5" height="53.5" fill="#ffffea"/><rect x="692.5" y="816.5" width="53.5" height="1.5" fill="#ffffea"/><rect x="746.0" y="816.5" width="1.5" height="1.5" fill="#ffffea"/><rect x="747.5" y="763.0" width="53.5" height="53.5" fill="#ffffea"/><rect x="801.0" y="763.0" width="1.5" height="53.5" fill="#ffffea"/><rect x="747.5" y="816.5" width="53.5" height="1.5" fill="#ffffea"/><rect x="801.0" y="816.5" width="1.5" height="1.5" fill="#ffffea"/><rect x="802.5" y="763.0" width="53.5" height="53.5" fill="#ffffea"/><rect x="856.0" y="763.0" width="1.5" height="53.5" fill="#ffffea"/><rect x="802.5" y="816.5" width="53.5" height="1.5" fill="#ffffea"/><rect x="856.0" y="816.5" width="1.5" height="1.5" fill="#ffffea"/><rect x="857.5" y="763.0" width="53.5" height="53.5" fill="#ffffea"/><rect x="911.0" y="763.0" width="1.5" height="53.5" fill="#ffffeb"/><rect x="857.5" y="816.5" width="53.5" height="1.5" fill="#ffffea"/><rect x="911.0" y="816.5" width="1.5" height="1.5" fill="#ffffeb"/><rect x="912.5" y="763.0" width="53.5" height="53.5" fill="#ffffeb"/><rect x="966.0" y="763.0" width="1.5" height="53.5" fill="#ffffeb"/><rect x="912.5" y="816.5" width="53.5" height="1.5" fill="#ffffeb"/><rect x="966.0" y="816.5" width="1.5" height="1.5" fill="#ffffeb"/><rect x="967.5" y="763.0" width="53.5" height="53.5" fill="#ffffea"/><rect x="1021.0" y="763.0" width="1.5" height="53.5" fill="#ffffea"/><rect x="967.5" y="816.5" width="53.5" height="1.5" fill="#ffffea"/><rect x="1021.0" y="816.5" width="1.5" height="1.5" fill="#ffffea"/><rect x="1022.5" y="763.0" width="53.5" height="53.5" fill="#ffffea"/><rect x="1076.0" y="763.0" width="1.5" height="53.5" fill="#ffffeb"/><rect x="1022.5" y="816.5" width="53.5" height="1.5" fill="#ffffea"/><rect x="1076.0" y="816.5" width="1.5" height="1.5" fill="#ffffeb"/><rect x="1077.5" y="763.0" width="53.5" height="53.5" fill="#ffffeb"/><rect x="1131.0" y="763.0" width="1.5" height="53.5" fill="#ffffeb"/><rect x="1077.5" y="816.5" width="53.5" height="1.5" fill="#ffffeb"/><rect x="1131.0" y="816.5" width="1.5" height="1.5" fill="#ffffeb"/><rect x="1132.5" y="763.0" width="53.5" height="53.5" fill="#ffffeb"/><rect x="1186.0" y="763.0" width="1.5" height="53.5" fill="#ffffeb"/><rect x="1132.5" y="816.5" width="53.5" height="1.5" fill="#ffffeb"/><rect x="1186.0" y="816.5" width="1.5" height="1.5" fill="#ffffeb"/><rect x="1187.5" y="763.0" width="53.5" height="53.5" fill="#ffffea"/><rect x="1241.0" y="763.0" width="1.5" height="53.5" fill="#ffffeb"/><rect x="1187.5" y="816.5" width="53.5" height="1.5" fill="#ffffea"/><rect x="1241.0" y="816.5" width="1.5" height="1.5" fill="#ffffeb"/><rect x="1242.5" y="763.0" width="53.5" height="53.5" fill="#ffffeb"/><rect x="1296.0" y="763.0" width="1.5" height="53.5" fill="#ffffeb"/><rect x="1242.5" y="816.5" width="53.5" height="1.5" fill="#ffffeb"/><rect x="1296.0" y="816.5" width="1.5" height="1.5" fill="#ffffeb"/><rect x="1297.5" y="763.0" width="53.5" height="53.5" fill="#ffffea"/><rect x="1351.0" y="763.0" width="1.5" height="53.5" fill="#ffffea"/><rect x="1297.5" y="816.5" width="53.5" height="1.5" fill="#ffffea"/><rect x="1351.0" y="816.5" width="1.5" height="1.5" fill="#ffffea"/><rect x="1352.5" y="763.0" width="53.5" height="53.5" fill="#ffffea"/><rect x="1352.5" y="816.5" width="53.5" height="1.5" fill="#ffffea"/><rect x="307.5" y="818.0" width="53.5" height="53.5" fill="#0d1d64"/><rect x="361.0" y="818.0" width="1.5" height="53.5" fill="#ffffe6"/><rect x="362.5" y="818.0" width="53.5" height="53.5" fill="#ffffe6"/><rect x="416.0" y="818.0" width="1.5" height="53.5" fill="#ffffe6"/><rect x="362.5" y="871.5" width="53.5" height="1.5" fill="#ffffee"/><rect x="416.0" y="871.5" width="1.5" height="1.5" fill="#ffffe6"/><rect x="417.5" y="818.0" width="53.5" height="53.5" fill="#ffffe4"/><rect x="471.0" y="818.0" width="1.5" height="53.5" fill="#ffffe5"/><rect x="417.5" y="871.5" width="53.5" height="1.5" fill="#ffffe4"/><rect x="471.0" y="871.5" width="1.5" height="1.5" fill="#ffffe5"/><rect x="472.5" y="818.0" width="53.5" height="53.5" fill="#ffffe5"/><rect x="526.0" y="818.0" width="1.5" height="53.5" fill="#ffffe5"/><rect x="472.5" y="871.5" width="53.5" height="1.5" fill="#ffffe5"/><rect x="526.0" y="871.5" width="1.5" height="1.5" fill="#ffffe5"/><rect x="527.5" y="818.0" width="53.5" height="53.5" fill="#ffffe5"/><rect x="581.0" y="818.0" width="1.5" height="53.5" fill="#ffffe5"/><rect x="527.5" y="871.5" width="53.5" height="1.5" fill="#ffffe5"/><rect x="581.0" y="871.5" width="1.5" height="1.5" fill="#ffffe5"/><rect x="582.5" y="818.0" width="53.5" height="53.5" fill="#ffffe5"/><rect x="636.0" y="818.0" width="1.5" height="53.5" fill="#ffffe5"/><rect x="582.5" y="871.5" width="53.5" height="1.5" fill="#ffffe5"/><rect x="636.0" y="871.5" width="1.5" height="1.5" fill="#ffffe5"/><rect x="637.5" y="818.0" width="53.5" height="53.5" fill="#ffffe5"/><rect x="691.0" y="818.0" width="1.5" height="53.5" fill="#ffffe6"/><rect x="637.5" y="871.5" width="53.5" height="1.5" fill="#ffffe5"/><rect x="691.0" y="871.5" width="1.5" height="1.5" fill="#ffffe6"/><rect x="692.5" y="818.0" width="53.5" height="53.5" fill="#ffffe6"/><rect x="746.0" y="818.0" width="1.5" height="53.5" fill="#ffffe6"/><rect x="692.5" y="871.5" width="53.5" height="1.5" fill="#ffffe6"/><rect x="746.0" y="871.5" width="1.5" height="1.5" fill="#ffffe6"/><rect x="747.5" y="818.0" width="53.5" height="53.5" fill="#ffffe5"/><rect x="801.0" y="818.0" width="1.5" height="53.5" fill="#ffffe5"/><rect x="747.5" y="871.5" width="53.5" height="1.5" fill="#ffffe5"/><rect x="801.0" y="871.5" width="1.5" height="1.5" fill="#ffffe5"/><rect x="802.5" y="818.0" width="53.5" height="53.5" fill="#ffffe5"/><rect x="856.0" y="818.0" width="1.5" height="53.5" fill="#ffffe5"/><rect x="802.5" y="871.5" width="53.5" height="1.5" fill="#ffffe5"/><rect x="856.0" y="871.5" width="1.5" height="1.5" fill="#ffffe5"/><rect x="857.5" y="818.0" width="53.5" height="53.5" fill="#ffffe5"/><rect x="911.0" y="818.0" width="1.5" height="53.5" fill="#ffffe5"/><rect x="857.5" y="871.5" width="53.5" height="1.5" fill="#ffffe5"/><rect x="911.0" y="871.5" width="1.5" height="1.5" fill="#ffffe5"/><rect x="912.5" y="818.0" width="53.5" height="53.5" fill="#ffffe4"/><rect x="966.0" y="818.0" width="1.5" height="53.5" fill="#ffffe4"/><rect x="912.5" y="871.5" width="53.5" height="1.5" fill="#ffffe4"/><rect x="966.0" y="871.5" width="1.5" height="1.5" fill="#ffffe4"/><rect x="967.5" y="818.0" width="53.5" height="53.5" fill="#ffffe4"/><rect x="1021.0" y="818.0" width="1.5" height="53.5" fill="#ffffe4"/><rect x="967.5" y="871.5" width="53.5" height="1.5" fill="#ffffe4"/><rect x="1021.0" y="871.5" width="1.5" height="1.5" fill="#ffffe4"/><rect x="1022.5" y="818.0" width="53.5" height="53.5" fill="#ffffe4"/><rect x="1076.0" y="818.0" width="1.5" height="53.5" fill="#ffffe4"/><rect x="1022.5" y="871.5" width="53.5" height="1.5" fill="#ffffe4"/><rect x="1076.0" y="871.5" width="1.5" height="1.5" fill="#ffffe4"/><rect x="1077.5" y="818.0" width="53.5" height="53.5" fill="#ffffe4"/><rect x="1131.0" y="818.0" width="1.5" height="53.5" fill="#ffffe4"/><rect x="1077.5" y="871.5" width="53.5" height="1.5" fill="#ffffe4"/><rect x="1131.0" y="871.5" width="1.5" height="1.5" fill="#ffffe4"/><rect x="1132.5" y="818.0" width="53.5" height="53.5" fill="#ffffe4"/><rect x="1186.0" y="818.0" width="1.5" height="53.5" fill="#ffffe4"/><rect x="1132.5" y="871.5" width="53.5" height="1.5" fill="#ffffe4"/><rect x="1186.0" y="871.5" width="1.5" height="1.5" fill="#ffffe4"/><rect x="1187.5" y="818.0" width="53.5" height="53.5" fill="#ffffe4"/><rect x="1241.0" y="818.0" width="1.5" height="53.5" fill="#ffffe4"/><rect x="1187.5" y="871.5" width="53.5" height="1.5" fill="#ffffe4"/><rect x="1241.0" y="871.5" width="1.5" height="1.5" fill="#ffffe4"/><rect x="1242.5" y="818.0" width="53.5" height="53.5" fill="#ffffe4"/><rect x="1296.0" y="818.0" width="1.5" height="53.5" fill="#ffffe4"/><rect x="1242.5" y="871.5" width="53.5" height="1.5" fill="#ffffe4"/><rect x="1296.0" y="871.5" width="1.5" height="1.5" fill="#ffffe4"/><rect x="1297.5" y="818.0" width="53.5" height="53.5" fill="#ffffe4"/><rect x="1351.0" y="818.0" width="1.5" height="53.5" fill="#ffffe5"/><rect x="1297.5" y="871.5" width="53.5" height="1.5" fill="#ffffe4"/><rect x="1351.0" y="871.5" width="1.5" height="1.5" fill="#ffffe5"/><rect x="1352.5" y="818.0" width="53.5" height="53.5" fill="#ffffe5"/><rect x="1352.5" y="871.5" width="53.5" height="1.5" fill="#ffffe5"/><rect x="362.5" y="873.0" width="53.5" height="53.5" fill="#0d1d64"/><rect x="416.0" y="873.0" width="1.5" height="53.5" fill="#ffffe3"/><rect x="417.5" y="873.0" width="53.5" height="53.5" fill="#ffffe3"/><rect x="471.0" y="873.0" width="1.5" height="53.5" fill="#ffffe3"/><rect x="417.5" y="926.5" width="53.5" height="1.5" fill="#ffffeb"/><rect x="471.0" y="926.5" width="1.5" height="1.5" fill="#ffffe3"/><rect x="472.5" y="873.0" width="53.5" height="53.5" fill="#ffffe3"/><rect x="526.0" y="873.0" width="1.5" height="53.5" fill="#ffffe4"/><rect x="472.5" y="926.5" width="53.5" height="1.5" fill="#ffffeb"/><rect x="526.0" y="926.5" width="1.5" height="1.5" fill="#ffffe4"/><rect x="527.5" y="873.0" width="53.5" height="53.5" fill="#ffffe4"/><rect x="581.0" y="873.0" width="1.5" height="53.5" fill="#ffffe4"/><rect x="527.5" y="926.5" width="53.5" height="1.5" fill="#ffffec"/><rect x="581.0" y="926.5" width="1.5" height="1.5" fill="#ffffe4"/><rect x="582.5" y="873.0" width="53.5" height="53.5" fill="#ffffe4"/><rect x="636.0" y="873.0" width="1.5" height="53.5" fill="#ffffe4"/><rect x="582.5" y="926.5" width="53.5" height="1.5" fill="#ffffec"/><rect x="636.0" y="926.5" width="1.5" height="1.5" fill="#ffffe4"/><rect x="637.5" y="873.0" width="53.5" height="53.5" fill="#ffffe4"/><rect x="691.0" y="873.0" width="1.5" height="53.5" fill="#ffffe4"/><rect x="637.5" y="926.5" width="53.5" height="1.5" fill="#ffffec"/><rect x="691.0" y="926.5" width="1.5" height="1.5" fill="#ffffe4"/><rect x="692.5" y="873.0" width="53.5" height="53.5" fill="#ffffe3"/><rect x="746.0" y="873.0" width="1.5" height="53.5" fill="#ffffe3"/><rect x="692.5" y="926.5" width="53.5" height="1.5" fill="#ffffeb"/><rect x="746.0" y="926.5" width="1.5" height="1.5" fill="#ffffe3"/><rect x="747.5" y="873.0" width="53.5" height="53.5" fill="#ffffe3"/><rect x="801.0" y="873.0" width="1.5" height="53.5" fill="#ffffe3"/><rect x="747.5" y="926.5" width="53.5" height="1.5" fill="#ffffeb"/><rect x="801.0" y="926.5" width="1.5" height="1.5" fill="#ffffe3"/><rect x="802.5" y="873.0" width="53.5" height="53.5" fill="#ffffe3"/><rect x="856.0" y="873.0" width="1.5" height="53.5" fill="#ffffe3"/><rect x="802.5" y="926.5" width="53.5" height="1.5" fill="#ffffeb"/><rect x="856.0" y="926.5" width="1.5" height="1.5" fill="#ffffe3"/><rect x="857.5" y="873.0" width="53.5" height="53.5" fill="#ffffe3"/><rect x="911.0" y="873.0" width="1.5" height="53.5" fill="#ffffe3"/><rect x="857.5" y="926.5" width="53.5" height="1.5" fill="#ffffeb"/><rect x="911.0" y="926.5" width="1.5" height="1.5" fill="#ffffe3"/><rect x="912.5" y="873.0" width="53.5" height="53.5" fill="#ffffe3"/><rect x="966.0" y="873.0" width="1.5" height="53.5" fill="#ffffe4"/><rect x="912.5" y="926.5" width="53.5" height="1.5" fill="#ffffeb"/><rect x="966.0" y="926.5" width="1.5" height="1.5" fill="#ffffe4"/><rect x="967.5" y="873.0" width="53.5" height="53.5" fill="#ffffe4"/><rect x="1021.0" y="873.0" width="1.5" height="53.5" fill="#ffffe4"/><rect x="967.5" y="926.5" width="53.5" height="1.5" fill="#ffffec"/><rect x="1021.0" y="926.5" width="1.5" height="1.5" fill="#ffffe4"/><rect x="1022.5" y="873.0" width="53.5" height="53.5" fill="#ffffe4"/><rect x="1076.0" y="873.0" width="1.5" height="53.5" fill="#ffffe4"/><rect x="1022.5" y="926.5" width="53.5" height="1.5" fill="#ffffec"/><rect x="1076.0" y="926.5" width="1.5" height="1.5" fill="#ffffe4"/><rect x="1077.5" y="873.0" width="53.5" height="53.5" fill="#ffffe3"/><rect x="1131.0" y="873.0" width="1.5" height="53.5" fill="#ffffe4"/><rect x="1077.5" y="926.5" width="53.5" height="1.5" fill="#ffffeb"/><rect x="1131.0" y="926.5" width="1.5" height="1.5" fill="#ffffe4"/><rect x="1132.5" y="873.0" width="53.5" height="53.5" fill="#ffffe4"/><rect x="1186.0" y="873.0" width="1.5" height="53.5" fill="#ffffe4"/><rect x="1132.5" y="926.5" width="53.5" height="1.5" fill="#ffffec"/><rect x="1186.0" y="926.5" width="1.5" height="1.5" fill="#ffffe4"/><rect x="1187.5" y="873.0" width="53.5" height="53.5" fill="#ffffe3"/><rect x="1241.0" y="873.0" width="1.5" height="53.5" fill="#ffffe3"/><rect x="1187.5" y="926.5" width="53.5" height="1.5" fill="#ffffeb"/><rect x="1241.0" y="926.5" width="1.5" height="1.5" fill="#ffffe3"/><rect x="1242.5" y="873.0" width="53.5" height="53.5" fill="#ffffe3"/><rect x="1296.0" y="873.0" width="1.5" height="53.5" fill="#ffffe3"/><rect x="1242.5" y="926.5" width="53.5" height="1.5" fill="#ffffeb"/><rect x="1296.0" y="926.5" width="1.5" height="1.5" fill="#ffffe3"/><rect x="1297.5" y="873.0" width="53.5" height="53.5" fill="#ffffe3"/><rect x="1351.0" y="873.0" width="1.5" height="53.5" fill="#ffffe3"/><rect x="1297.5" y="926.5" width="53.5" height="1.5" fill="#ffffeb"/><rect x="1351.0" y="926.5" width="1.5" height="1.5" fill="#ffffe3"/><rect x="1352.5" y="873.0" width="53.5" height="53.5" fill="#ffffe2"/><rect x="1352.5" y="926.5" width="53.5" height="1.5" fill="#ffffeb"/><rect x="417.5" y="928.0" width="53.5" height="53.5" fill="#0d1d64"/><rect x="471.0" y="928.0" width="1.5" height="53.5" fill="#2e3b88"/><rect x="472.5" y="928.0" width="53.5" height="53.5" fill="#202e92"/><rect x="526.0" y="928.0" width="1.5" height="53.5" fill="#35429a"/><rect x="472.5" y="981.5" width="53.5" height="1.5" fill="#273584"/><rect x="526.0" y="981.5" width="1.5" height="1.5" fill="#303e8e"/><rect x="527.5" y="928.0" width="53.5" height="53.5" fill="#1d2c8c"/><rect x="581.0" y="928.0" width="1.5" height="53.5" fill="#344198"/><rect x="527.5" y="981.5" width="53.5" height="1.5" fill="#2b3a91"/><rect x="581.0" y="981.5" width="1.5" height="1.5" fill="#324094"/><rect x="582.5" y="928.0" width="53.5" height="53.5" fill="#1d2c8c"/><rect x="636.0" y="928.0" width="1.5" height="53.5" fill="#344198"/><rect x="582.5" y="981.5" width="53.5" height="1.5" fill="#2b3a91"/><rect x="636.0" y="981.5" width="1.5" height="1.5" fill="#324094"/><rect x="637.5" y="928.0" width="53.5" height="53.5" fill="#1d2c8c"/><rect x="691.0" y="928.0" width="1.5" height="53.5" fill="#3850a6"/><rect x="637.5" y="981.5" width="53.5" height="1.5" fill="#2b3a91"/><rect x="691.0" y="981.5" width="1.5" height="1.5" fill="#3750a5"/><rect x="692.5" y="928.0" width="53.5" height="53.5" fill="#264cad"/><rect x="746.0" y="928.0" width="1.5" height="53.5" fill="#3c58b3"/><rect x="692.5" y="981.5" width="53.5" height="1.5" fill="#355ab3"/><rect x="746.0" y="981.5" width="1.5" height="1.5" fill="#3c5ab4"/><rect x="747.5" y="928.0" width="53.5" height="53.5" fill="#273ea9"/><rect x="801.0" y="928.0" width="1.5" height="53.5" fill="#3d55b2"/><rect x="747.5" y="981.5" width="53.5" height="1.5" fill="#3650b0"/><rect x="801.0" y="981.5" width="1.5" height="1.5" fill="#3c58b3"/><rect x="802.5" y="928.0" width="53.5" height="53.5" fill="#2746ab"/><rect x="856.0" y="928.0" width="1.5" height="53.5" fill="#3d58b3"/><rect x="802.5" y="981.5" width="53.5" height="1.5" fill="#3654b1"/><rect x="856.0" y="981.5" width="1.5" height="1.5" fill="#3c58b3"/><rect x="857.5" y="928.0" width="53.5" height="53.5" fill="#2744aa"/><rect x="911.0" y="928.0" width="1.5" height="53.5" fill="#3d55b2"/><rect x="857.5" y="981.5" width="53.5" height="1.5" fill="#3652b0"/><rect x="911.0" y="981.5" width="1.5" height="1.5" fill="#3d55b2"/><rect x="912.5" y="928.0" width="53.5" height="53.5" fill="#2741a9"/><rect x="966.0" y="928.0" width="1.5" height="53.5" fill="#3d54b2"/><rect x="912.5" y="981.5" width="53.5" height="1.5" fill="#364daf"/><rect x="966.0" y="981.5" width="1.5" height="1.5" fill="#3d53b2"/><rect x="967.5" y="928.0" width="53.5" height="53.5" fill="#2741a9"/><rect x="1021.0" y="928.0" width="1.5" height="53.5" fill="#3d54b2"/><rect x="967.5" y="981.5" width="53.5" height="1.5" fill="#364eaf"/><rect x="1021.0" y="981.5" width="1.5" height="1.5" fill="#3d54b2"/><rect x="1022.5" y="928.0" width="53.5" height="53.5" fill="#2741a9"/><rect x="1076.0" y="928.0" width="1.5" height="53.5" fill="#3d56b2"/><rect x="1022.5" y="981.5" width="53.5" height="1.5" fill="#364eaf"/><rect x="1076.0" y="981.5" width="1.5" height="1.5" fill="#3d56b2"/><rect x="1077.5" y="928.0" width="53.5" height="53.5" fill="#2746ab"/><rect x="1131.0" y="928.0" width="1.5" height="53.5" fill="#3d55b2"/><rect x="1077.5" y="981.5" width="53.5" height="1.5" fill="#3653b1"/><rect x="1131.0" y="981.5" width="1.5" height="1.5" fill="#3d55b2"/><rect x="1132.5" y="928.0" width="53.5" height="53.5" fill="#273fa9"/><rect x="1186.0" y="928.0" width="1.5" height="53.5" fill="#3d53b2"/><rect x="1132.5" y="981.5" width="53.5" height="1.5" fill="#364caf"/><rect x="1186.0" y="981.5" width="1.5" height="1.5" fill="#3d54b2"/><rect x="1187.5" y="928.0" width="53.5" height="53.5" fill="#2741aa"/><rect x="1241.0" y="928.0" width="1.5" height="53.5" fill="#3d53b2"/><rect x="1187.5" y="981.5" width="53.5" height="1.5" fill="#3651b0"/><rect x="1241.0" y="981.5" width="1.5" height="1.5" fill="#3d55b2"/><rect x="1242.5" y="928.0" width="53.5" height="53.5" fill="#273fa9"/><rect x="1296.0" y="928.0" width="1.5" height="53.5" fill="#3c57b3"/><rect x="1242.5" y="981.5" width="53.5" height="1.5" fill="#364faf"/><rect x="1296.0" y="981.5" width="1.5" height="1.5" fill="#3c58b3"/><rect x="1297.5" y="928.0" width="53.5" height="53.5" fill="#2649ac"/><rect x="1351.0" y="928.0" width="1.5" height="53.5" fill="#3c5bb4"/><rect x="1297.5" y="981.5" width="53.5" height="1.5" fill="#3556b2"/><rect x="1351.0" y="981.5" width="1.5" height="1.5" fill="#3c5ab4"/><rect x="1352.5" y="928.0" width="53.5" height="53.5" fill="#2648ac"/><rect x="1352.5" y="981.5" width="53.5" height="1.5" fill="#3654b1"/><rect x="472.5" y="983.0" width="53.5" height="53.5" fill="#0d1d64"/><rect x="526.0" y="983.0" width="1.5" height="53.5" fill="#2b3982"/><rect x="527.5" y="983.0" width="53.5" height="53.5" fill="#1a2a85"/><rect x="581.0" y="983.0" width="1.5" height="53.5" fill="#313f91"/><rect x="527.5" y="1036.5" width="53.5" height="1.5" fill="#24337e"/><rect x="581.0" y="1036.5" width="1.5" height="1.5" fill="#2b3982"/><rect x="582.5" y="983.0" width="53.5" height="53.5" fill="#1a2a85"/><rect x="636.0" y="983.0" width="1.5" height="53.5" fill="#313f91"/><rect x="582.5" y="1036.5" width="53.5" height="1.5" fill="#24337e"/><rect x="636.0" y="1036.5" width="1.5" height="1.5" fill="#2b3982"/><rect x="637.5" y="983.0" width="53.5" height="53.5" fill="#1a2a85"/><rect x="691.0" y="983.0" width="1.5" height="53.5" fill="#3650a4"/><rect x="637.5" y="1036.5" width="53.5" height="1.5" fill="#24337e"/><rect x="691.0" y="1036.5" width="1.5" height="1.5" fill="#334e9d"/><rect x="692.5" y="983.0" width="53.5" height="53.5" fill="#264fae"/><rect x="746.0" y="983.0" width="1.5" height="53.5" fill="#3c5db5"/><rect x="692.5" y="1036.5" width="53.5" height="1.5" fill="#355eb5"/><rect x="746.0" y="1036.5" width="1.5" height="1.5" fill="#3b5eb5"/><rect x="747.5" y="983.0" width="53.5" height="53.5" fill="#2647ab"/><rect x="801.0" y="983.0" width="1.5" height="53.5" fill="#3c5ab4"/><rect x="747.5" y="1036.5" width="53.5" height="1.5" fill="#3554b1"/><rect x="801.0" y="1036.5" width="1.5" height="1.5" fill="#3c5bb4"/><rect x="802.5" y="983.0" width="53.5" height="53.5" fill="#2649ac"/><rect x="856.0" y="983.0" width="1.5" height="53.5" fill="#3c59b4"/><rect x="802.5" y="1036.5" width="53.5" height="1.5" fill="#3557b2"/><rect x="856.0" y="1036.5" width="1.5" height="1.5" fill="#3c5ab4"/><rect x="857.5" y="983.0" width="53.5" height="53.5" fill="#2745ab"/><rect x="911.0" y="983.0" width="1.5" height="53.5" fill="#3d54b2"/><rect x="857.5" y="1036.5" width="53.5" height="1.5" fill="#3652b1"/><rect x="911.0" y="1036.5" width="1.5" height="1.5" fill="#3d54b2"/><rect x="912.5" y="983.0" width="53.5" height="53.5" fill="#273ea9"/><rect x="966.0" y="983.0" width="1.5" height="53.5" fill="#3d53b2"/><rect x="912.5" y="1036.5" width="53.5" height="1.5" fill="#364caf"/><rect x="966.0" y="1036.5" width="1.5" height="1.5" fill="#3d53b2"/><rect x="967.5" y="983.0" width="53.5" height="53.5" fill="#2741a9"/><rect x="1021.0" y="983.0" width="1.5" height="53.5" fill="#3d54b2"/><rect x="967.5" y="1036.5" width="53.5" height="1.5" fill="#364eaf"/><rect x="1021.0" y="1036.5" width="1.5" height="1.5" fill="#3d54b2"/><rect x="1022.5" y="983.0" width="53.5" height="53.5" fill="#2741a9"/><rect x="1076.0" y="983.0" width="1.5" height="53.5" fill="#3d56b2"/><rect x="1022.5" y="1036.5" width="53.5" height="1.5" fill="#364eaf"/><rect x="1076.0" y="1036.5" width="1.5" height="1.5" fill="#3d56b3"/><rect x="1077.5" y="983.0" width="53.5" height="53.5" fill="#2746ab"/><rect x="1131.0" y="983.0" width="1.5" height="53.5" fill="#3d54b2"/><rect x="1077.5" y="1036.5" width="53.5" height="1.5" fill="#3652b1"/><rect x="1131.0" y="1036.5" width="1.5" height="1.5" fill="#3d55b2"/><rect x="1132.5" y="983.0" width="53.5" height="53.5" fill="#273da8"/><rect x="1186.0" y="983.0" width="1.5" height="53.5" fill="#3d54b2"/><rect x="1132.5" y="1036.5" width="53.5" height="1.5" fill="#364caf"/><rect x="1186.0" y="1036.5" width="1.5" height="1.5" fill="#3d55b2"/><rect x="1187.5" y="983.0" width="53.5" height="53.5" fill="#2746ab"/><rect x="1241.0" y="983.0" width="1.5" height="53.5" fill="#3d58b3"/><rect x="1187.5" y="1036.5" width="53.5" height="1.5" fill="#3652b0"/><rect x="1241.0" y="1036.5" width="1.5" height="1.5" fill="#3d56b2"/><rect x="1242.5" y="983.0" width="53.5" height="53.5" fill="#2744aa"/><rect x="1296.0" y="983.0" width="1.5" height="53.5" fill="#3c59b3"/><rect x="1242.5" y="1036.5" width="53.5" height="1.5" fill="#364faf"/><rect x="1296.0" y="1036.5" width="1.5" height="1.5" fill="#3c58b3"/><rect x="1297.5" y="983.0" width="53.5" height="53.5" fill="#2649ac"/><rect x="1351.0" y="983.0" width="1.5" height="53.5" fill="#3c5ab4"/><rect x="1297.5" y="1036.5" width="53.5" height="1.5" fill="#3556b2"/><rect x="1351.0" y="1036.5" width="1.5" height="1.5" fill="#3c5ab4"/><rect x="1352.5" y="983.0" width="53.5" height="53.5" fill="#2746ab"/><rect x="1352.5" y="1036.5" width="53.5" height="1.5" fill="#3654b1"/><rect x="527.5" y="1038.0" width="53.5" height="53.5" fill="#0d1d64"/><rect x="581.0" y="1038.0" width="1.5" height="53.5" fill="#253474"/><rect x="582.5" y="1038.0" width="53.5" height="53.5" fill="#0d1d64"/><rect x="636.0" y="1038.0" width="1.5" height="53.5" fill="#253474"/><rect x="582.5" y="1091.5" width="53.5" height="1.5" fill="#1e2d6f"/><rect x="636.0" y="1091.5" width="1.5" height="1.5" fill="#253474"/><rect x="637.5" y="1038.0" width="53.5" height="53.5" fill="#0d1d64"/><rect x="691.0" y="1038.0" width="1.5" height="53.5" fill="#304c96"/><rect x="637.5" y="1091.5" width="53.5" height="1.5" fill="#1e2d6f"/><rect x="691.0" y="1091.5" width="1.5" height="1.5" fill="#304c95"/><rect x="692.5" y="1038.0" width="53.5" height="53.5" fill="#2554b0"/><rect x="746.0" y="1038.0" width="1.5" height="53.5" fill="#3b60b6"/><rect x="692.5" y="1091.5" width="53.5" height="1.5" fill="#355fb5"/><rect x="746.0" y="1091.5" width="1.5" height="1.5" fill="#3b5fb6"/><rect x="747.5" y="1038.0" width="53.5" height="53.5" fill="#2648ac"/><rect x="801.0" y="1038.0" width="1.5" height="53.5" fill="#3c5cb5"/><rect x="747.5" y="1091.5" width="53.5" height="1.5" fill="#3555b2"/><rect x="801.0" y="1091.5" width="1.5" height="1.5" fill="#3c5bb5"/><rect x="802.5" y="1038.0" width="53.5" height="53.5" fill="#264bad"/><rect x="856.0" y="1038.0" width="1.5" height="53.5" fill="#3c5ab4"/><rect x="802.5" y="1091.5" width="53.5" height="1.5" fill="#3556b2"/><rect x="856.0" y="1091.5" width="1.5" height="1.5" fill="#3c5ab4"/><rect x="857.5" y="1038.0" width="53.5" height="53.5" fill="#2745ab"/><rect x="911.0" y="1038.0" width="1.5" height="53.5" fill="#3d54b2"/><rect x="857.5" y="1091.5" width="53.5" height="1.5" fill="#3652b1"/><rect x="911.0" y="1091.5" width="1.5" height="1.5" fill="#3d54b2"/><rect x="912.5" y="1038.0" width="53.5" height="53.5" fill="#273ea9"/><rect x="966.0" y="1038.0" width="1.5" height="53.5" fill="#3d53b2"/><rect x="912.5" y="1091.5" width="53.5" height="1.5" fill="#364caf"/><rect x="966.0" y="1091.5" width="1.5" height="1.5" fill="#3d52b2"/><rect x="967.5" y="1038.0" width="53.5" height="53.5" fill="#2741aa"/><rect x="1021.0" y="1038.0" width="1.5" height="53.5" fill="#3d54b2"/><rect x="967.5" y="1091.5" width="53.5" height="1.5" fill="#364daf"/><rect x="1021.0" y="1091.5" width="1.5" height="1.5" fill="#3d53b2"/><rect x="1022.5" y="1038.0" width="53.5" height="53.5" fill="#2741aa"/><rect x="1076.0" y="1038.0" width="1.5" height="53.5" fill="#3d56b3"/><rect x="1022.5" y="1091.5" width="53.5" height="1.5" fill="#364daf"/><rect x="1076.0" y="1091.5" width="1.5" height="1.5" fill="#3d55b2"/><rect x="1077.5" y="1038.0" width="53.5" height="53.5" fill="#2745ab"/><rect x="1131.0" y="1038.0" width="1.5" height="53.5" fill="#3d56b2"/><rect x="1077.5" y="1091.5" width="53.5" height="1.5" fill="#3652b0"/><rect x="1131.0" y="1091.5" width="1.5" height="1.5" fill="#3d55b2"/><rect x="1132.5" y="1038.0" width="53.5" height="53.5" fill="#2741a9"/><rect x="1186.0" y="1038.0" width="1.5" height="53.5" fill="#3d55b2"/><rect x="1132.5" y="1091.5" width="53.5" height="1.5" fill="#364daf"/><rect x="1186.0" y="1091.5" width="1.5" height="1.5" fill="#3d54b2"/><rect x="1187.5" y="1038.0" width="53.5" height="53.5" fill="#2743aa"/><rect x="1241.0" y="1038.0" width="1.5" height="53.5" fill="#3d54b2"/><rect x="1187.5" y="1091.5" width="53.5" height="1.5" fill="#3650b0"/><rect x="1241.0" y="1091.5" width="1.5" height="1.5" fill="#3d54b2"/><rect x="1242.5" y="1038.0" width="53.5" height="53.5" fill="#2740a9"/><rect x="1296.0" y="1038.0" width="1.5" height="53.5" fill="#3c57b3"/><rect x="1242.5" y="1091.5" width="53.5" height="1.5" fill="#364daf"/><rect x="1296.0" y="1091.5" width="1.5" height="1.5" fill="#3c57b3"/><rect x="1297.5" y="1038.0" width="53.5" height="53.5" fill="#2649ac"/><rect x="1351.0" y="1038.0" width="1.5" height="53.5" fill="#3c5bb4"/><rect x="1297.5" y="1091.5" width="53.5" height="1.5" fill="#3556b2"/><rect x="1351.0" y="1091.5" width="1.5" height="1.5" fill="#3c5bb4"/><rect x="1352.5" y="1038.0" width="53.5" height="53.5" fill="#2648ac"/><rect x="1352.5" y="1091.5" width="53.5" height="1.5" fill="#3555b2"/><rect x="582.5" y="1093.0" width="53.5" height="53.5" fill="#0d1d64"/><rect x="636.0" y="1093.0" width="1.5" height="53.5" fill="#253474"/><rect x="637.5" y="1093.0" width="53.5" height="53.5" fill="#0d1d64"/><rect x="691.0" y="1093.0" width="1.5" height="53.5" fill="#304b95"/><rect x="637.5" y="1146.5" width="53.5" height="1.5" fill="#1e2d6f"/><rect x="691.0" y="1146.5" width="1.5" height="1.5" fill="#304c95"/><rect x="692.5" y="1093.0" width="53.5" height="53.5" fill="#2651af"/><rect x="746.0" y="1093.0" width="1.5" height="53.5" fill="#3c5eb6"/><rect x="692.5" y="1146.5" width="53.5" height="1.5" fill="#355fb5"/><rect x="746.0" y="1146.5" width="1.5" height="1.5" fill="#3b5fb6"/><rect x="747.5" y="1093.0" width="53.5" height="53.5" fill="#2648ac"/><rect x="801.0" y="1093.0" width="1.5" height="53.5" fill="#3c5ab4"/><rect x="747.5" y="1146.5" width="53.5" height="1.5" fill="#3555b2"/><rect x="801.0" y="1146.5" width="1.5" height="1.5" fill="#3c5bb5"/><rect x="802.5" y="1093.0" width="53.5" height="53.5" fill="#2648ac"/><rect x="856.0" y="1093.0" width="1.5" height="53.5" fill="#3c59b4"/><rect x="802.5" y="1146.5" width="53.5" height="1.5" fill="#3556b2"/><rect x="856.0" y="1146.5" width="1.5" height="1.5" fill="#3c5ab4"/><rect x="857.5" y="1093.0" width="53.5" height="53.5" fill="#2745ab"/><rect x="911.0" y="1093.0" width="1.5" height="53.5" fill="#3d54b2"/><rect x="857.5" y="1146.5" width="53.5" height="1.5" fill="#3652b1"/><rect x="911.0" y="1146.5" width="1.5" height="1.5" fill="#3d54b2"/><rect x="912.5" y="1093.0" width="53.5" height="53.5" fill="#273ea9"/><rect x="966.0" y="1093.0" width="1.5" height="53.5" fill="#3d52b2"/><rect x="912.5" y="1146.5" width="53.5" height="1.5" fill="#364caf"/><rect x="966.0" y="1146.5" width="1.5" height="1.5" fill="#3d52b2"/><rect x="967.5" y="1093.0" width="53.5" height="53.5" fill="#273fa9"/><rect x="1021.0" y="1093.0" width="1.5" height="53.5" fill="#3d52b2"/><rect x="967.5" y="1146.5" width="53.5" height="1.5" fill="#364daf"/><rect x="1021.0" y="1146.5" width="1.5" height="1.5" fill="#3d53b2"/><rect x="1022.5" y="1093.0" width="53.5" height="53.5" fill="#273fa9"/><rect x="1076.0" y="1093.0" width="1.5" height="53.5" fill="#3d54b2"/><rect x="1022.5" y="1146.5" width="53.5" height="1.5" fill="#364daf"/><rect x="1076.0" y="1146.5" width="1.5" height="1.5" fill="#3d55b2"/><rect x="1077.5" y="1093.0" width="53.5" height="53.5" fill="#2744aa"/><rect x="1131.0" y="1093.0" width="1.5" height="53.5" fill="#3d54b2"/><rect x="1077.5" y="1146.5" width="53.5" height="1.5" fill="#3651b0"/><rect x="1131.0" y="1146.5" width="1.5" height="1.5" fill="#3d55b2"/><rect x="1132.5" y="1093.0" width="53.5" height="53.5" fill="#273ea9"/><rect x="1186.0" y="1093.0" width="1.5" height="53.5" fill="#3d54b2"/><rect x="1132.5" y="1146.5" width="53.5" height="1.5" fill="#364daf"/><rect x="1186.0" y="1146.5" width="1.5" height="1.5" fill="#3d54b2"/><rect x="1187.5" y="1093.0" width="53.5" height="53.5" fill="#2743aa"/><rect x="1241.0" y="1093.0" width="1.5" height="53.5" fill="#3d54b2"/><rect x="1187.5" y="1146.5" width="53.5" height="1.5" fill="#3650b0"/><rect x="1241.0" y="1146.5" width="1.5" height="1.5" fill="#3d54b2"/><rect x="1242.5" y="1093.0" width="53.5" height="53.5" fill="#2740a9"/><rect x="1296.0" y="1093.0" width="1.5" height="53.5" fill="#3c57b3"/><rect x="1242.5" y="1146.5" width="53.5" height="1.5" fill="#364daf"/><rect x="1296.0" y="1146.5" width="1.5" height="1.5" fill="#3c57b3"/><rect x="1297.5" y="1093.0" width="53.5" height="53.5" fill="#2649ac"/><rect x="1351.0" y="1093.0" width="1.5" height="53.5" fill="#3c5bb4"/><rect x="1297.5" y="1146.5" width="53.5" height="1.5" fill="#3556b2"/><rect x="1351.0" y="1146.5" width="1.5" height="1.5" fill="#3c5bb4"/><rect x="1352.5" y="1093.0" width="53.5" height="53.5" fill="#2648ac"/><rect x="1352.5" y="1146.5" width="53.5" height="1.5" fill="#3555b2"/><rect x="637.5" y="1148.0" width="53.5" height="53.5" fill="#0d1d64"/><rect x="691.0" y="1148.0" width="1.5" height="53.5" fill="#304c96"/><rect x="692.5" y="1148.0" width="53.5" height="53.5" fill="#2554b0"/><rect x="746.0" y="1148.0" width="1.5" height="53.5" fill="#3b60b6"/><rect x="692.5" y="1201.5" width="53.5" height="1.5" fill="#294692"/><rect x="746.0" y="1201.5" width="1.5" height="1.5" fill="#3650a4"/><rect x="747.5" y="1148.0" width="53.5" height="53.5" fill="#2648ac"/><rect x="801.0" y="1148.0" width="1.5" height="53.5" fill="#3c5cb5"/><rect x="747.5" y="1201.5" width="53.5" height="1.5" fill="#364daf"/><rect x="801.0" y="1201.5" width="1.5" height="1.5" fill="#3c52b0"/><rect x="802.5" y="1148.0" width="53.5" height="53.5" fill="#264bad"/><rect x="856.0" y="1148.0" width="1.5" height="53.5" fill="#3c5ab4"/><rect x="802.5" y="1201.5" width="53.5" height="1.5" fill="#344cab"/><rect x="856.0" y="1201.5" width="1.5" height="1.5" fill="#3c52b0"/><rect x="857.5" y="1148.0" width="53.5" height="53.5" fill="#2745ab"/><rect x="911.0" y="1148.0" width="1.5" height="53.5" fill="#3d54b2"/><rect x="857.5" y="1201.5" width="53.5" height="1.5" fill="#374caf"/><rect x="911.0" y="1201.5" width="1.5" height="1.5" fill="#3d52b2"/><rect x="912.5" y="1148.0" width="53.5" height="53.5" fill="#273ea9"/><rect x="966.0" y="1148.0" width="1.5" height="53.5" fill="#3d53b2"/><rect x="912.5" y="1201.5" width="53.5" height="1.5" fill="#364daf"/><rect x="966.0" y="1201.5" width="1.5" height="1.5" fill="#3d53b2"/><rect x="967.5" y="1148.0" width="53.5" height="53.5" fill="#2741aa"/><rect x="1021.0" y="1148.0" width="1.5" height="53.5" fill="#3d54b2"/><rect x="967.5" y="1201.5" width="53.5" height="1.5" fill="#364daf"/><rect x="1021.0" y="1201.5" width="1.5" height="1.5" fill="#3d53b2"/><rect x="1022.5" y="1148.0" width="53.5" height="53.5" fill="#2741aa"/><rect x="1076.0" y="1148.0" width="1.5" height="53.5" fill="#3d55b2"/><rect x="1022.5" y="1201.5" width="53.5" height="1.5" fill="#364daf"/><rect x="1076.0" y="1201.5" width="1.5" height="1.5" fill="#3d52b2"/><rect x="1077.5" y="1148.0" width="53.5" height="53.5" fill="#2744aa"/><rect x="1131.0" y="1148.0" width="1.5" height="53.5" fill="#3d55b2"/><rect x="1077.5" y="1201.5" width="53.5" height="1.5" fill="#374caf"/><rect x="1131.0" y="1201.5" width="1.5" height="1.5" fill="#3d51b1"/><rect x="1132.5" y="1148.0" width="53.5" height="53.5" fill="#2741a9"/><rect x="1186.0" y="1148.0" width="1.5" height="53.5" fill="#3d55b2"/><rect x="1132.5" y="1201.5" width="53.5" height="1.5" fill="#3749ae"/><rect x="1186.0" y="1201.5" width="1.5" height="1.5" fill="#3d4fb0"/><rect x="1187.5" y="1148.0" width="53.5" height="53.5" fill="#2743aa"/><rect x="1241.0" y="1148.0" width="1.5" height="53.5" fill="#3d54b2"/><rect x="1187.5" y="1201.5" width="53.5" height="1.5" fill="#364aad"/><rect x="1241.0" y="1201.5" width="1.5" height="1.5" fill="#3d50b0"/><rect x="1242.5" y="1148.0" width="53.5" height="53.5" fill="#2740a9"/><rect x="1296.0" y="1148.0" width="1.5" height="53.5" fill="#3c57b3"/><rect x="1242.5" y="1201.5" width="53.5" height="1.5" fill="#374aae"/><rect x="1296.0" y="1201.5" width="1.5" height="1.5" fill="#3d52b1"/><rect x="1297.5" y="1148.0" width="53.5" height="53.5" fill="#2649ac"/><rect x="1351.0" y="1148.0" width="1.5" height="53.5" fill="#3c5bb4"/><rect x="1297.5" y="1201.5" width="53.5" height="1.5" fill="#364faf"/><rect x="1351.0" y="1201.5" width="1.5" height="1.5" fill="#3c53b1"/><rect x="1352.5" y="1148.0" width="53.5" height="53.5" fill="#2648ac"/><rect x="1352.5" y="1201.5" width="53.5" height="1.5" fill="#354cad"/><rect x="692.5" y="1203.0" width="53.5" height="53.5" fill="#0d1d64"/><rect x="746.0" y="1203.0" width="1.5" height="53.5" fill="#314092"/><rect x="747.5" y="1203.0" width="53.5" height="53.5" fill="#2838a7"/><rect x="801.0" y="1203.0" width="1.5" height="53.5" fill="#3c49ab"/><rect x="747.5" y="1256.5" width="53.5" height="1.5" fill="#2a398e"/><rect x="801.0" y="1256.5" width="1.5" height="1.5" fill="#35439b"/><rect x="802.5" y="1203.0" width="53.5" height="53.5" fill="#24329d"/><rect x="856.0" y="1203.0" width="1.5" height="53.5" fill="#3c49ab"/><rect x="802.5" y="1256.5" width="53.5" height="1.5" fill="#3340a2"/><rect x="856.0" y="1256.5" width="1.5" height="1.5" fill="#3a47a6"/><rect x="857.5" y="1203.0" width="53.5" height="53.5" fill="#2837a6"/><rect x="911.0" y="1203.0" width="1.5" height="53.5" fill="#3d50b1"/><rect x="857.5" y="1256.5" width="53.5" height="1.5" fill="#3442a4"/><rect x="911.0" y="1256.5" width="1.5" height="1.5" fill="#3b4fad"/><rect x="912.5" y="1203.0" width="53.5" height="53.5" fill="#2741aa"/><rect x="966.0" y="1203.0" width="1.5" height="53.5" fill="#3d53b2"/><rect x="912.5" y="1256.5" width="53.5" height="1.5" fill="#3650b0"/><rect x="966.0" y="1256.5" width="1.5" height="1.5" fill="#3d52b2"/><rect x="967.5" y="1203.0" width="53.5" height="53.5" fill="#273ea9"/><rect x="1021.0" y="1203.0" width="1.5" height="53.5" fill="#3d51b2"/><rect x="967.5" y="1256.5" width="53.5" height="1.5" fill="#374aae"/><rect x="1021.0" y="1256.5" width="1.5" height="1.5" fill="#3d50b1"/><rect x="1022.5" y="1203.0" width="53.5" height="53.5" fill="#273ea9"/><rect x="1076.0" y="1203.0" width="1.5" height="53.5" fill="#3d50b1"/><rect x="1022.5" y="1256.5" width="53.5" height="1.5" fill="#374aae"/><rect x="1076.0" y="1256.5" width="1.5" height="1.5" fill="#3d4fb0"/><rect x="1077.5" y="1203.0" width="53.5" height="53.5" fill="#283aa7"/><rect x="1131.0" y="1203.0" width="1.5" height="53.5" fill="#3e4caf"/><rect x="1077.5" y="1256.5" width="53.5" height="1.5" fill="#3749ae"/><rect x="1131.0" y="1256.5" width="1.5" height="1.5" fill="#3d4db0"/><rect x="1132.5" y="1203.0" width="53.5" height="53.5" fill="#2836a6"/><rect x="1186.0" y="1203.0" width="1.5" height="53.5" fill="#3d4aae"/><rect x="1132.5" y="1256.5" width="53.5" height="1.5" fill="#3745ac"/><rect x="1186.0" y="1256.5" width="1.5" height="1.5" fill="#3d4aae"/><rect x="1187.5" y="1203.0" width="53.5" height="53.5" fill="#2735a3"/><rect x="1241.0" y="1203.0" width="1.5" height="53.5" fill="#3d4bae"/><rect x="1187.5" y="1256.5" width="53.5" height="1.5" fill="#3643a9"/><rect x="1241.0" y="1256.5" width="1.5" height="1.5" fill="#3d4aae"/><rect x="1242.5" y="1203.0" width="53.5" height="53.5" fill="#2839a7"/><rect x="1296.0" y="1203.0" width="1.5" height="53.5" fill="#3e4db0"/><rect x="1242.5" y="1256.5" width="53.5" height="1.5" fill="#3745ad"/><rect x="1296.0" y="1256.5" width="1.5" height="1.5" fill="#3d4bae"/><rect x="1297.5" y="1203.0" width="53.5" height="53.5" fill="#283aa7"/><rect x="1351.0" y="1203.0" width="1.5" height="53.5" fill="#3d4bae"/><rect x="1297.5" y="1256.5" width="53.5" height="1.5" fill="#3645a9"/><rect x="1351.0" y="1256.5" width="1.5" height="1.5" fill="#3c4aac"/><rect x="1352.5" y="1203.0" width="53.5" height="53.5" fill="#2635a2"/><rect x="1352.5" y="1256.5" width="53.5" height="1.5" fill="#3644aa"/><rect x="747.5" y="1258.0" width="53.5" height="53.5" fill="#0d1d64"/><rect x="801.0" y="1258.0" width="1.5" height="53.5" fill="#2f3d8b"/><rect x="802.5" y="1258.0" width="53.5" height="53.5" fill="#233199"/><rect x="856.0" y="1258.0" width="1.5" height="53.5" fill="#3845a1"/><rect x="802.5" y="1311.5" width="53.5" height="1.5" fill="#283687"/><rect x="856.0" y="1311.5" width="1.5" height="1.5" fill="#324093"/><rect x="857.5" y="1258.0" width="53.5" height="53.5" fill="#213095"/><rect x="911.0" y="1258.0" width="1.5" height="53.5" fill="#3a4ea9"/><rect x="857.5" y="1311.5" width="53.5" height="1.5" fill="#2f3d98"/><rect x="911.0" y="1311.5" width="1.5" height="1.5" fill="#394ca7"/><rect x="912.5" y="1258.0" width="53.5" height="53.5" fill="#2744aa"/><rect x="966.0" y="1258.0" width="1.5" height="53.5" fill="#3d52b1"/><rect x="912.5" y="1311.5" width="53.5" height="1.5" fill="#364faf"/><rect x="966.0" y="1311.5" width="1.5" height="1.5" fill="#3d50b0"/><rect x="967.5" y="1258.0" width="53.5" height="53.5" fill="#283aa7"/><rect x="1021.0" y="1258.0" width="1.5" height="53.5" fill="#3e4eb0"/><rect x="967.5" y="1311.5" width="53.5" height="1.5" fill="#3745ab"/><rect x="1021.0" y="1311.5" width="1.5" height="1.5" fill="#3d4bae"/><rect x="1022.5" y="1258.0" width="53.5" height="53.5" fill="#283aa7"/><rect x="1076.0" y="1258.0" width="1.5" height="53.5" fill="#3d4fb0"/><rect x="1022.5" y="1311.5" width="53.5" height="1.5" fill="#3745ab"/><rect x="1076.0" y="1311.5" width="1.5" height="1.5" fill="#3c4bac"/><rect x="1077.5" y="1258.0" width="53.5" height="53.5" fill="#273ca8"/><rect x="1131.0" y="1258.0" width="1.5" height="53.5" fill="#3d4db0"/><rect x="1077.5" y="1311.5" width="53.5" height="1.5" fill="#3445a6"/><rect x="1131.0" y="1311.5" width="1.5" height="1.5" fill="#3b49a9"/><rect x="1132.5" y="1258.0" width="53.5" height="53.5" fill="#2837a6"/><rect x="1186.0" y="1258.0" width="1.5" height="53.5" fill="#3d4aae"/><rect x="1132.5" y="1311.5" width="53.5" height="1.5" fill="#3442a5"/><rect x="1186.0" y="1311.5" width="1.5" height="1.5" fill="#3b48a7"/><rect x="1187.5" y="1258.0" width="53.5" height="53.5" fill="#2735a3"/><rect x="1241.0" y="1258.0" width="1.5" height="53.5" fill="#3d4aae"/><rect x="1187.5" y="1311.5" width="53.5" height="1.5" fill="#3441a4"/><rect x="1241.0" y="1311.5" width="1.5" height="1.5" fill="#3b48a9"/><rect x="1242.5" y="1258.0" width="53.5" height="53.5" fill="#2836a6"/><rect x="1296.0" y="1258.0" width="1.5" height="53.5" fill="#3c49ab"/><rect x="1242.5" y="1311.5" width="53.5" height="1.5" fill="#3643a9"/><rect x="1296.0" y="1311.5" width="1.5" height="1.5" fill="#3b48a8"/><rect x="1297.5" y="1258.0" width="53.5" height="53.5" fill="#25339e"/><rect x="1351.0" y="1258.0" width="1.5" height="53.5" fill="#3c49ab"/><rect x="1297.5" y="1311.5" width="53.5" height="1.5" fill="#3340a1"/><rect x="1351.0" y="1311.5" width="1.5" height="1.5" fill="#3b48a9"/><rect x="1352.5" y="1258.0" width="53.5" height="53.5" fill="#2836a6"/><rect x="1352.5" y="1311.5" width="53.5" height="1.5" fill="#3744ab"/><rect x="802.5" y="1313.0" width="53.5" height="53.5" fill="#0d1d64"/><rect x="856.0" y="1313.0" width="1.5" height="53.5" fill="#2c3a86"/><rect x="857.5" y="1313.0" width="53.5" height="53.5" fill="#1d2c8c"/><rect x="911.0" y="1313.0" width="1.5" height="53.5" fill="#384aa5"/><rect x="857.5" y="1366.5" width="53.5" height="1.5" fill="#253481"/><rect x="911.0" y="1366.5" width="1.5" height="1.5" fill="#34479c"/><rect x="912.5" y="1313.0" width="53.5" height="53.5" fill="#273fa9"/><rect x="966.0" y="1313.0" width="1.5" height="53.5" fill="#3d4eaf"/><rect x="912.5" y="1366.5" width="53.5" height="1.5" fill="#364faf"/><rect x="966.0" y="1366.5" width="1.5" height="1.5" fill="#3d50b0"/><rect x="967.5" y="1313.0" width="53.5" height="53.5" fill="#2735a3"/><rect x="1021.0" y="1313.0" width="1.5" height="53.5" fill="#3d49ac"/><rect x="967.5" y="1366.5" width="53.5" height="1.5" fill="#3745ab"/><rect x="1021.0" y="1366.5" width="1.5" height="1.5" fill="#3d4bae"/><rect x="1022.5" y="1313.0" width="53.5" height="53.5" fill="#2735a3"/><rect x="1076.0" y="1313.0" width="1.5" height="53.5" fill="#3a47a7"/><rect x="1022.5" y="1366.5" width="53.5" height="1.5" fill="#3745ab"/><rect x="1076.0" y="1366.5" width="1.5" height="1.5" fill="#3b49aa"/><rect x="1077.5" y="1313.0" width="53.5" height="53.5" fill="#223197"/><rect x="1131.0" y="1313.0" width="1.5" height="53.5" fill="#3846a1"/><rect x="1077.5" y="1366.5" width="53.5" height="1.5" fill="#3341a3"/><rect x="1131.0" y="1366.5" width="1.5" height="1.5" fill="#3946a5"/><rect x="1132.5" y="1313.0" width="53.5" height="53.5" fill="#223197"/><rect x="1186.0" y="1313.0" width="1.5" height="53.5" fill="#3846a1"/><rect x="1132.5" y="1366.5" width="53.5" height="1.5" fill="#3240a1"/><rect x="1186.0" y="1366.5" width="1.5" height="1.5" fill="#3a47a6"/><rect x="1187.5" y="1313.0" width="53.5" height="53.5" fill="#223197"/><rect x="1241.0" y="1313.0" width="1.5" height="53.5" fill="#3947a5"/><rect x="1187.5" y="1366.5" width="53.5" height="1.5" fill="#3442a5"/><rect x="1241.0" y="1366.5" width="1.5" height="1.5" fill="#3b49aa"/><rect x="1242.5" y="1313.0" width="53.5" height="53.5" fill="#25349f"/><rect x="1296.0" y="1313.0" width="1.5" height="53.5" fill="#3946a5"/><rect x="1242.5" y="1366.5" width="53.5" height="1.5" fill="#3645a9"/><rect x="1296.0" y="1366.5" width="1.5" height="1.5" fill="#3b49a8"/><rect x="1297.5" y="1313.0" width="53.5" height="53.5" fill="#223096"/><rect x="1351.0" y="1313.0" width="1.5" height="53.5" fill="#3a47a6"/><rect x="1297.5" y="1366.5" width="53.5" height="1.5" fill="#3340a2"/><rect x="1351.0" y="1366.5" width="1.5" height="1.5" fill="#3b49a9"/><rect x="1352.5" y="1313.0" width="53.5" height="53.5" fill="#2735a3"/><rect x="1352.5" y="1366.5" width="53.5" height="1.5" fill="#3745ab"/><rect x="857.5" y="1368.0" width="53.5" height="53.5" fill="#0d1d64"/><rect x="911.0" y="1368.0" width="1.5" height="53.5" fill="#314593"/><rect x="912.5" y="1368.0" width="53.5" height="53.5" fill="#2744aa"/><rect x="966.0" y="1368.0" width="1.5" height="53.5" fill="#3d52b1"/><rect x="912.5" y="1421.5" width="53.5" height="1.5" fill="#2a3f8f"/><rect x="966.0" y="1421.5" width="1.5" height="1.5" fill="#3748a0"/><rect x="967.5" y="1368.0" width="53.5" height="53.5" fill="#283aa7"/><rect x="1021.0" y="1368.0" width="1.5" height="53.5" fill="#3e4eb0"/><rect x="967.5" y="1421.5" width="53.5" height="1.5" fill="#3645a9"/><rect x="1021.0" y="1421.5" width="1.5" height="1.5" fill="#3c4bac"/><rect x="1022.5" y="1368.0" width="53.5" height="53.5" fill="#283aa7"/><rect x="1076.0" y="1368.0" width="1.5" height="53.5" fill="#3d4bad"/><rect x="1022.5" y="1421.5" width="53.5" height="1.5" fill="#3645a9"/><rect x="1076.0" y="1421.5" width="1.5" height="1.5" fill="#3c4aac"/><rect x="1077.5" y="1368.0" width="53.5" height="53.5" fill="#2634a1"/><rect x="1131.0" y="1368.0" width="1.5" height="53.5" fill="#3b47a9"/><rect x="1077.5" y="1421.5" width="53.5" height="1.5" fill="#3543a8"/><rect x="1131.0" y="1421.5" width="1.5" height="1.5" fill="#3b48a9"/><rect x="1132.5" y="1368.0" width="53.5" height="53.5" fill="#24329d"/><rect x="1186.0" y="1368.0" width="1.5" height="53.5" fill="#3c48ab"/><rect x="1132.5" y="1421.5" width="53.5" height="1.5" fill="#3340a4"/><rect x="1186.0" y="1421.5" width="1.5" height="1.5" fill="#3b48ab"/><rect x="1187.5" y="1368.0" width="53.5" height="53.5" fill="#2836a6"/><rect x="1241.0" y="1368.0" width="1.5" height="53.5" fill="#3e4caf"/><rect x="1187.5" y="1421.5" width="53.5" height="1.5" fill="#3744ac"/><rect x="1241.0" y="1421.5" width="1.5" height="1.5" fill="#3d4bad"/><rect x="1242.5" y="1368.0" width="53.5" height="53.5" fill="#283aa7"/><rect x="1296.0" y="1368.0" width="1.5" height="53.5" fill="#3c4bac"/><rect x="1242.5" y="1421.5" width="53.5" height="1.5" fill="#3645a9"/><rect x="1296.0" y="1421.5" width="1.5" height="1.5" fill="#3c4bac"/><rect x="1297.5" y="1368.0" width="53.5" height="53.5" fill="#25349f"/><rect x="1351.0" y="1368.0" width="1.5" height="53.5" fill="#3c4aac"/><rect x="1297.5" y="1421.5" width="53.5" height="1.5" fill="#3645a9"/><rect x="1351.0" y="1421.5" width="1.5" height="1.5" fill="#3d4bae"/><rect x="1352.5" y="1368.0" width="53.5" height="53.5" fill="#2838a7"/><rect x="1352.5" y="1421.5" width="53.5" height="1.5" fill="#3745ad"/><rect x="912.5" y="1423.0" width="53.5" height="53.5" fill="#0d1d64"/><rect x="966.0" y="1423.0" width="1.5" height="53.5" fill="#303e8e"/><rect x="967.5" y="1423.0" width="53.5" height="53.5" fill="#25349f"/><rect x="1021.0" y="1423.0" width="1.5" height="53.5" fill="#3b48a9"/><rect x="967.5" y="1476.5" width="53.5" height="1.5" fill="#29388a"/><rect x="1021.0" y="1476.5" width="1.5" height="1.5" fill="#303e8e"/><rect x="1022.5" y="1423.0" width="53.5" height="53.5" fill="#25349f"/><rect x="1076.0" y="1423.0" width="1.5" height="53.5" fill="#3b49aa"/><rect x="1022.5" y="1476.5" width="53.5" height="1.5" fill="#29388a"/><rect x="1076.0" y="1476.5" width="1.5" height="1.5" fill="#36449e"/><rect x="1077.5" y="1423.0" width="53.5" height="53.5" fill="#2635a2"/><rect x="1131.0" y="1423.0" width="1.5" height="53.5" fill="#3b48a9"/><rect x="1077.5" y="1476.5" width="53.5" height="1.5" fill="#3645ab"/><rect x="1131.0" y="1476.5" width="1.5" height="1.5" fill="#3b49aa"/><rect x="1132.5" y="1423.0" width="53.5" height="53.5" fill="#24329d"/><rect x="1186.0" y="1423.0" width="1.5" height="53.5" fill="#3b48aa"/><rect x="1132.5" y="1476.5" width="53.5" height="1.5" fill="#3340a3"/><rect x="1186.0" y="1476.5" width="1.5" height="1.5" fill="#3b47a8"/><rect x="1187.5" y="1423.0" width="53.5" height="53.5" fill="#2736a5"/><rect x="1241.0" y="1423.0" width="1.5" height="53.5" fill="#3c49ab"/><rect x="1187.5" y="1476.5" width="53.5" height="1.5" fill="#3542a8"/><rect x="1241.0" y="1476.5" width="1.5" height="1.5" fill="#3a48a8"/><rect x="1242.5" y="1423.0" width="53.5" height="53.5" fill="#25349f"/><rect x="1296.0" y="1423.0" width="1.5" height="53.5" fill="#3c4bac"/><rect x="1242.5" y="1476.5" width="53.5" height="1.5" fill="#3341a2"/><rect x="1296.0" y="1476.5" width="1.5" height="1.5" fill="#3b49a9"/><rect x="1297.5" y="1423.0" width="53.5" height="53.5" fill="#283aa7"/><rect x="1351.0" y="1423.0" width="1.5" height="53.5" fill="#3e4caf"/><rect x="1297.5" y="1476.5" width="53.5" height="1.5" fill="#3645a9"/><rect x="1351.0" y="1476.5" width="1.5" height="1.5" fill="#3c4aac"/><rect x="1352.5" y="1423.0" width="53.5" height="53.5" fill="#2836a6"/><rect x="1352.5" y="1476.5" width="53.5" height="1.5" fill="#3643a9"/><rect x="967.5" y="1478.0" width="53.5" height="53.5" fill="#0d1d64"/><rect x="1021.0" y="1478.0" width="1.5" height="53.5" fill="#253474"/><rect x="1022.5" y="1478.0" width="53.5" height="53.5" fill="#0d1d64"/><rect x="1076.0" y="1478.0" width="1.5" height="53.5" fill="#314092"/><rect x="1022.5" y="1531.5" width="53.5" height="1.5" fill="#1e2d6f"/><rect x="1076.0" y="1531.5" width="1.5" height="1.5" fill="#314092"/><rect x="1077.5" y="1478.0" width="53.5" height="53.5" fill="#2838a7"/><rect x="1131.0" y="1478.0" width="1.5" height="53.5" fill="#3c49aa"/><rect x="1077.5" y="1531.5" width="53.5" height="1.5" fill="#3746ad"/><rect x="1131.0" y="1531.5" width="1.5" height="1.5" fill="#3c49aa"/><rect x="1132.5" y="1478.0" width="53.5" height="53.5" fill="#24329b"/><rect x="1186.0" y="1478.0" width="1.5" height="53.5" fill="#3a46a6"/><rect x="1132.5" y="1531.5" width="53.5" height="1.5" fill="#3340a2"/><rect x="1186.0" y="1531.5" width="1.5" height="1.5" fill="#3a46a6"/><rect x="1187.5" y="1478.0" width="53.5" height="53.5" fill="#24329d"/><rect x="1241.0" y="1478.0" width="1.5" height="53.5" fill="#3946a4"/><rect x="1187.5" y="1531.5" width="53.5" height="1.5" fill="#3340a4"/><rect x="1241.0" y="1531.5" width="1.5" height="1.5" fill="#3946a4"/><rect x="1242.5" y="1478.0" width="53.5" height="53.5" fill="#223197"/><rect x="1296.0" y="1478.0" width="1.5" height="53.5" fill="#3947a5"/><rect x="1242.5" y="1531.5" width="53.5" height="1.5" fill="#313f9e"/><rect x="1296.0" y="1531.5" width="1.5" height="1.5" fill="#3947a5"/><rect x="1297.5" y="1478.0" width="53.5" height="53.5" fill="#25349f"/><rect x="1351.0" y="1478.0" width="1.5" height="53.5" fill="#3b48a8"/><rect x="1297.5" y="1531.5" width="53.5" height="1.5" fill="#3442a6"/><rect x="1351.0" y="1531.5" width="1.5" height="1.5" fill="#3b48a8"/><rect x="1352.5" y="1478.0" width="53.5" height="53.5" fill="#25339e"/><rect x="1352.5" y="1531.5" width="53.5" height="1.5" fill="#3441a5"/><rect x="1022.5" y="1533.0" width="53.5" height="53.5" fill="#0d1d64"/><rect x="1076.0" y="1533.0" width="1.5" height="53.5" fill="#314092"/><rect x="1077.5" y="1533.0" width="53.5" height="53.5" fill="#2838a7"/><rect x="1131.0" y="1533.0" width="1.5" height="53.5" fill="#3c49aa"/><rect x="1077.5" y="1586.5" width="53.5" height="1.5" fill="#2a398e"/><rect x="1131.0" y="1586.5" width="1.5" height="1.5" fill="#36439c"/><rect x="1132.5" y="1533.0" width="53.5" height="53.5" fill="#24329b"/><rect x="1186.0" y="1533.0" width="1.5" height="53.5" fill="#3a46a6"/><rect x="1132.5" y="1586.5" width="53.5" height="1.5" fill="#3441a3"/><rect x="1186.0" y="1586.5" width="1.5" height="1.5" fill="#3b47a8"/><rect x="1187.5" y="1533.0" width="53.5" height="53.5" fill="#24329d"/><rect x="1241.0" y="1533.0" width="1.5" height="53.5" fill="#3946a4"/><rect x="1187.5" y="1586.5" width="53.5" height="1.5" fill="#3442a6"/><rect x="1241.0" y="1586.5" width="1.5" height="1.5" fill="#3b48a9"/><rect x="1242.5" y="1533.0" width="53.5" height="53.5" fill="#223197"/><rect x="1296.0" y="1533.0" width="1.5" height="53.5" fill="#3947a5"/><rect x="1242.5" y="1586.5" width="53.5" height="1.5" fill="#3443a6"/><rect x="1296.0" y="1586.5" width="1.5" height="1.5" fill="#3a48a7"/><rect x="1297.5" y="1533.0" width="53.5" height="53.5" fill="#25349f"/><rect x="1351.0" y="1533.0" width="1.5" height="53.5" fill="#3b48a8"/><rect x="1297.5" y="1586.5" width="53.5" height="1.5" fill="#3341a3"/><rect x="1351.0" y="1586.5" width="1.5" height="1.5" fill="#3b48a9"/><rect x="1352.5" y="1533.0" width="53.5" height="53.5" fill="#25339e"/><rect x="1352.5" y="1586.5" width="53.5" height="1.5" fill="#3643a9"/><rect x="1077.5" y="1588.0" width="53.5" height="53.5" fill="#0d1d64"/><rect x="1131.0" y="1588.0" width="1.5" height="53.5" fill="#303e8e"/><rect x="1132.5" y="1588.0" width="53.5" height="53.5" fill="#25339e"/><rect x="1186.0" y="1588.0" width="1.5" height="53.5" fill="#3b48aa"/><rect x="1132.5" y="1641.5" width="53.5" height="1.5" fill="#29378a"/><rect x="1186.0" y="1641.5" width="1.5" height="1.5" fill="#35429b"/><rect x="1187.5" y="1588.0" width="53.5" height="53.5" fill="#2635a2"/><rect x="1241.0" y="1588.0" width="1.5" height="53.5" fill="#3d4bae"/><rect x="1187.5" y="1641.5" width="53.5" height="1.5" fill="#3441a5"/><rect x="1241.0" y="1641.5" width="1.5" height="1.5" fill="#3b48a9"/><rect x="1242.5" y="1588.0" width="53.5" height="53.5" fill="#2838a7"/><rect x="1296.0" y="1588.0" width="1.5" height="53.5" fill="#3b49aa"/><rect x="1242.5" y="1641.5" width="53.5" height="1.5" fill="#3543a7"/><rect x="1296.0" y="1641.5" width="1.5" height="1.5" fill="#3a47a7"/><rect x="1297.5" y="1588.0" width="53.5" height="53.5" fill="#233199"/><rect x="1351.0" y="1588.0" width="1.5" height="53.5" fill="#3b48a9"/><rect x="1297.5" y="1641.5" width="53.5" height="1.5" fill="#3340a1"/><rect x="1351.0" y="1641.5" width="1.5" height="1.5" fill="#3a47a7"/><rect x="1352.5" y="1588.0" width="53.5" height="53.5" fill="#2836a6"/><rect x="1352.5" y="1641.5" width="53.5" height="1.5" fill="#3542a6"/><rect x="1132.5" y="1643.0" width="53.5" height="53.5" fill="#0d1d64"/><rect x="1186.0" y="1643.0" width="1.5" height="53.5" fill="#2f3d8c"/><rect x="1187.5" y="1643.0" width="53.5" height="53.5" fill="#23319a"/><rect x="1241.0" y="1643.0" width="1.5" height="53.5" fill="#3946a4"/><rect x="1187.5" y="1696.5" width="53.5" height="1.5" fill="#283688"/><rect x="1241.0" y="1696.5" width="1.5" height="1.5" fill="#334096"/><rect x="1242.5" y="1643.0" width="53.5" height="53.5" fill="#23319a"/><rect x="1296.0" y="1643.0" width="1.5" height="53.5" fill="#3946a5"/><rect x="1242.5" y="1696.5" width="53.5" height="1.5" fill="#313e9d"/><rect x="1296.0" y="1696.5" width="1.5" height="1.5" fill="#3845a1"/><rect x="1297.5" y="1643.0" width="53.5" height="53.5" fill="#24329b"/><rect x="1351.0" y="1643.0" width="1.5" height="53.5" fill="#3946a4"/><rect x="1297.5" y="1696.5" width="53.5" height="1.5" fill="#323fa0"/><rect x="1351.0" y="1696.5" width="1.5" height="1.5" fill="#3845a1"/><rect x="1352.5" y="1643.0" width="53.5" height="53.5" fill="#233199"/><rect x="1352.5" y="1696.5" width="53.5" height="1.5" fill="#313e9d"/><rect x="1187.5" y="1698.0" width="53.5" height="53.5" fill="#0d1d64"/><rect x="1241.0" y="1698.0" width="1.5" height="53.5" fill="#2d3b88"/><rect x="1242.5" y="1698.0" width="53.5" height="53.5" fill="#1f2e91"/><rect x="1296.0" y="1698.0" width="1.5" height="53.5" fill="#37449e"/><rect x="1242.5" y="1751.5" width="53.5" height="1.5" fill="#263584"/><rect x="1296.0" y="1751.5" width="1.5" height="1.5" fill="#324094"/><rect x="1297.5" y="1698.0" width="53.5" height="53.5" fill="#223096"/><rect x="1351.0" y="1698.0" width="1.5" height="53.5" fill="#37449f"/><rect x="1297.5" y="1751.5" width="53.5" height="1.5" fill="#313e9d"/><rect x="1351.0" y="1751.5" width="1.5" height="1.5" fill="#37449f"/><rect x="1352.5" y="1698.0" width="53.5" height="53.5" fill="#202e92"/><rect x="1352.5" y="1751.5" width="53.5" height="1.5" fill="#313e9b"/><rect x="1242.5" y="1753.0" width="53.5" height="53.5" fill="#0d1d64"/><rect x="1296.0" y="1753.0" width="1.5" height="53.5" fill="#2e3c8a"/><rect x="1297.5" y="1753.0" width="53.5" height="53.5" fill="#213095"/><rect x="1351.0" y="1753.0" width="1.5" height="53.5" fill="#3845a0"/><rect x="1297.5" y="1806.5" width="53.5" height="1.5" fill="#273686"/><rect x="1351.0" y="1806.5" width="1.5" height="1.5" fill="#334095"/><rect x="1352.5" y="1753.0" width="53.5" height="53.5" fill="#223096"/><rect x="1352.5" y="1806.5" width="53.5" height="1.5" fill="#313e9d"/><rect x="1297.5" y="1808.0" width="53.5" height="53.5" fill="#0d1d64"/><rect x="1351.0" y="1808.0" width="1.5" height="53.5" fill="#2e3c8a"/><rect x="1352.5" y="1808.0" width="53.5" height="53.5" fill="#213095"/><rect x="1352.5" y="1861.5" width="53.5" height="1.5" fill="#273686"/><rect x="1352.5" y="1863.0" width="53.5" height="53.5" fill="#0d1d64"/></g>
<g font-family="'Liberation Sans', Arial, sans-serif" font-size="23" text-anchor="middle" stroke-width="0.6"><text transform="translate(59.85,578.78) scale(0.86,1)" fill="#c0c8e8" stroke="#c0c8e8">100.0</text><text transform="translate(114.85,578.78) scale(0.86,1)" fill="#3c3c3c" stroke="#3c3c3c">0.4</text><text transform="translate(169.85,578.78) scale(0.86,1)" fill="#3c3c3c" stroke="#3c3c3c">0.6</text><text transform="translate(224.85,578.78) scale(0.86,1)" fill="#3c3c3c" stroke="#3c3c3c">0.6</text><text transform="translate(279.85,578.78) scale(0.86,1)" fill="#3c3c3c" stroke="#3c3c3c">0.6</text><text transform="translate(334.85,578.78) scale(0.86,1)" fill="#3c3c3c" stroke="#3c3c3c">0.5</text><text transform="translate(389.85,578.78) scale(0.86,1)" fill="#3c3c3c" stroke="#3c3c3c">0.5</text><text transform="translate(444.85,578.78) scale(0.86,1)" fill="#3c3c3c" stroke="#3c3c3c">0.5</text><text transform="translate(499.85,578.78) scale(0.86,1)" fill="#3c3c3c" stroke="#3c3c3c">0.7</text><text transform="translate(554.85,578.78) scale(0.86,1)" fill="#3c3c3c" stroke="#3c3c3c">0.7</text><text transform="translate(609.85,578.78) scale(0.86,1)" fill="#3c3c3c" stroke="#3c3c3c">0.7</text><text transform="translate(664.85,578.78) scale(0.86,1)" fill="#3c3c3c" stroke="#3c3c3c">0.7</text><text transform="translate(719.85,578.78) scale(0.86,1)" fill="#3c3c3c" stroke="#3c3c3c">0.6</text><text transform="translate(774.85,578.78) scale(0.86,1)" fill="#3c3c3c" stroke="#3c3c3c">0.4</text><text transform="translate(829.85,578.78) scale(0.86,1)" fill="#3c3c3c" stroke="#3c3c3c">0.6</text><text transform="translate(884.85,578.78) scale(0.86,1)" fill="#3c3c3c" stroke="#3c3c3c">0.5</text><text transform="translate(939.85,578.78) scale(0.86,1)" fill="#3c3c3c" stroke="#3c3c3c">0.6</text><text transform="translate(994.85,578.78) scale(0.86,1)" fill="#3c3c3c" stroke="#3c3c3c">0.6</text><text transform="translate(1049.85,578.78) scale(0.86,1)" fill="#3c3c3c" stroke="#3c3c3c">0.6</text><text transform="translate(1104.85,578.78) scale(0.86,1)" fill="#3c3c3c" stroke="#3c3c3c">0.5</text><text transform="translate(1159.85,578.78) scale(0.86,1)" fill="#3c3c3c" stroke="#3c3c3c">0.6</text><text transform="translate(1214.85,578.78) scale(0.86,1)" fill="#3c3c3c" stroke="#3c3c3c">0.6</text><text transform="translate(1269.85,578.78) scale(0.86,1)" fill="#3c3c3c" stroke="#3c3c3c">0.4</text><text transform="translate(1324.85,578.78) scale(0.86,1)" fill="#3c3c3c" stroke="#3c3c3c">0.6</text><text transform="translate(1379.85,578.78) scale(0.86,1)" fill="#3c3c3c" stroke="#3c3c3c">0.4</text><text transform="translate(114.85,633.78) scale(0.86,1)" fill="#c0c8e8" stroke="#c0c8e8">100.0</text><text transform="translate(169.85,633.78) scale(0.86,1)" fill="#3c3c3c" stroke="#3c3c3c">16.4</text><text transform="translate(224.85,633.78) scale(0.86,1)" fill="#3c3c3c" stroke="#3c3c3c">17.2</text><text transform="translate(279.85,633.78) scale(0.86,1)" fill="#3c3c3c" stroke="#3c3c3c">17.3</text><text transform="translate(334.85,633.78) scale(0.86,1)" fill="#3c3c3c" stroke="#3c3c3c">10.6</text><text transform="translate(389.85,633.78) scale(0.86,1)" fill="#3c3c3c" stroke="#3c3c3c">15.5</text><text transform="translate(444.85,633.78) scale(0.86,1)" fill="#3c3c3c" stroke="#3c3c3c">12.2</text><text transform="translate(499.85,633.78) scale(0.86,1)" fill="#3c3c3c" stroke="#3c3c3c">12.2</text><text transform="translate(554.85,633.78) scale(0.86,1)" fill="#3c3c3c" stroke="#3c3c3c">12.2</text><text transform="translate(609.85,633.78) scale(0.86,1)" fill="#3c3c3c" stroke="#3c3c3c">12.2</text><text transform="translate(664.85,633.78) scale(0.86,1)" fill="#3c3c3c" stroke="#3c3c3c">12.2</text><text transform="translate(719.85,633.78) scale(0.86,1)" fill="#3c3c3c" stroke="#3c3c3c">12.5</text><text transform="translate(774.85,633.78) scale(0.86,1)" fill="#3c3c3c" stroke="#3c3c3c">12.6</text><text transform="translate(829.85,633.78) scale(0.86,1)" fill="#3c3c3c" stroke="#3c3c3c">12.5</text><text transform="translate(884.85,633.78) scale(0.86,1)" fill="#3c3c3c" stroke="#3c3c3c">12.6</text><text transform="translate(939.85,633.78) scale(0.86,1)" fill="#3c3c3c" stroke="#3c3c3c">12.6</text><text transform="translate(994.85,633.78) scale(0.86,1)" fill="#3c3c3c" stroke="#3c3c3c">12.5</text><text transform="translate(1049.85,633.78) scale(0.86,1)" fill="#3c3c3c" stroke="#3c3c3c">12.5</text><text transform="translate(1104.85,633.78) scale(0.86,1)" fill="#3c3c3c" stroke="#3c3c3c">12.8</text><text transform="translate(1159.85,633.78) scale(0.86,1)" fill="#3c3c3c" stroke="#3c3c3c">12.6</text><text transform="translate(1214.85,633.78) scale(0.86,1)" fill="#3c3c3c" stroke="#3c3c3c">12.5</text><text transform="translate(1269.85,633.78) scale(0.86,1)" fill="#3c3c3c" stroke="#3c3c3c">12.7</text><text transform="translate(1324.85,633.78) scale(0.86,1)" fill="#3c3c3c" stroke="#3c3c3c">12.4</text><text transform="translate(1379.85,633.78) scale(0.86,1)" fill="#3c3c3c" stroke="#3c3c3c">12.3</text><text transform="translate(169.85,688.78) scale(0.86,1)" fill="#c0c8e8" stroke="#c0c8e8">100.0</text><text transform="translate(224.85,688.78) scale(0.86,1)" fill="#3c3c3c" stroke="#3c3c3c">23.6</text><text transform="translate(279.85,688.78) scale(0.86,1)" fill="#3c3c3c" stroke="#3c3c3c">23.8</text><text transform="translate(334.85,688.78) scale(0.86,1)" fill="#3c3c3c" stroke="#3c3c3c">8.8</text><text transform="translate(389.85,688.78) scale(0.86,1)" fill="#3c3c3c" stroke="#3c3c3c">12.0</text><text transform="translate(444.85,688.78) scale(0.86,1)" fill="#3c3c3c" stroke="#3c3c3c">10.5</text><text transform="translate(499.85,688.78) scale(0.86,1)" fill="#3c3c3c" stroke="#3c3c3c">10.6</text><text transform="translate(554.85,688.78) scale(0.86,1)" fill="#3c3c3c" stroke="#3c3c3c">10.3</text><text transform="translate(609.85,688.78) scale(0.86,1)" fill="#3c3c3c" stroke="#3c3c3c">10.3</text><text transform="translate(664.85,688.78) scale(0.86,1)" fill="#3c3c3c" stroke="#3c3c3c">10.3</text><text transform="translate(719.85,688.78) scale(0.86,1)" fill="#3c3c3c" stroke="#3c3c3c">10.5</text><text transform="translate(774.85,688.78) scale(0.86,1)" fill="#3c3c3c" stroke="#3c3c3c">10.3</text><text transform="translate(829.85,688.78) scale(0.86,1)" fill="#3c3c3c" stroke="#3c3c3c">10.5</text><text transform="translate(884.85,688.78) scale(0.86,1)" fill="#3c3c3c" stroke="#3c3c3c">10.3</text><text transform="translate(939.85,688.78) scale(0.86,1)" fill="#3c3c3c" stroke="#3c3c3c">10.4</text><text transform="translate(994.85,688.78) scale(0.86,1)" fill="#3c3c3c" stroke="#3c3c3c">10.3</text><text transform="translate(1049.85,688.78) scale(0.86,1)" fill="#3c3c3c" stroke="#3c3c3c">10.3</text><text transform="translate(1104.85,688.78) scale(0.86,1)" fill="#3c3c3c" stroke="#3c3c3c">10.7</text><text transform="translate(1159.85,688.78) scale(0.86,1)" fill="#3c3c3c" stroke="#3c3c3c">10.5</text><text transform="translate(1214.85,688.78) scale(0.86,1)" fill="#3c3c3c" stroke="#3c3c3c">10.9</text><text transform="translate(1269.85,688.78) scale(0.86,1)" fill="#3c3c3c" stroke="#3c3c3c">10.4</text><text transform="translate(1324.85,688.78) scale(0.86,1)" fill="#3c3c3c" stroke="#3c3c3c">10.8</text><text transform="translate(1379.85,688.78) scale(0.86,1)" fill="#3c3c3c" stroke="#3c3c3c">10.5</text><text transform="translate(224.85,743.78) scale(0.86,1)" fill="#c0c8e8" stroke="#c0c8e8">100.0</text><text transform="translate(279.85,743.78) scale(0.86,1)" fill="#dbe0f3" stroke="#dbe0f3">90.0</text><text transform="translate(334.85,743.78) scale(0.86,1)" fill="#3c3c3c" stroke="#3c3c3c">7.6</text><text transform="translate(389.85,743.78) scale(0.86,1)" fill="#3c3c3c" stroke="#3c3c3c">11.4</text><text transform="translate(444.85,743.78) scale(0.86,1)" fill="#3c3c3c" stroke="#3c3c3c">10.6</text><text transform="translate(499.85,743.78) scale(0.86,1)" fill="#3c3c3c" stroke="#3c3c3c">10.6</text><text transform="translate(554.85,743.78) scale(0.86,1)" fill="#3c3c3c" stroke="#3c3c3c">10.3</text><text transform="translate(609.85,743.78) scale(0.86,1)" fill="#3c3c3c" stroke="#3c3c3c">10.3</text><text transform="translate(664.85,743.78) scale(0.86,1)" fill="#3c3c3c" stroke="#3c3c3c">10.3</text><text transform="translate(719.85,743.78) scale(0.86,1)" fill="#3c3c3c" stroke="#3c3c3c">10.8</text><text transform="translate(774.85,743.78) scale(0.86,1)" fill="#3c3c3c" stroke="#3c3c3c">10.6</text><text transform="translate(829.85,743.78) scale(0.86,1)" fill="#3c3c3c" stroke="#3c3c3c">10.4</text><text transform="translate(884.85,743.78) scale(0.86,1)" fill="#3c3c3c" stroke="#3c3c3c">10.2</text><text transform="translate(939.85,743.78) scale(0.86,1)" fill="#3c3c3c" stroke="#3c3c3c">10.3</text><text transform="translate(994.85,743.78) scale(0.86,1)" fill="#3c3c3c" stroke="#3c3c3c">10.1</text><text transform="translate(1049.85,743.78) scale(0.86,1)" fill="#3c3c3c" stroke="#3c3c3c">10.1</text><text transform="translate(1104.85,743.78) scale(0.86,1)" fill="#3c3c3c" stroke="#3c3c3c">10.6</text><text transform="translate(1159.85,743.78) scale(0.86,1)" fill="#3c3c3c" stroke="#3c3c3c">10.2</text><text transform="translate(1214.85,743.78) scale(0.86,1)" fill="#3c3c3c" stroke="#3c3c3c">10.5</text><text transform="translate(1269.85,743.78) scale(0.86,1)" fill="#3c3c3c" stroke="#3c3c3c">10.5</text><text transform="translate(1324.85,743.78) scale(0.86,1)" fill="#3c3c3c" stroke="#3c3c3c">10.2</text><text transform="translate(1379.85,743.78) scale(0.86,1)" fill="#3c3c3c" stroke="#3c3c3c">10.2</text><text transform="translate(279.85,798.78) scale(0.86,1)" fill="#c0c8e8" stroke="#c0c8e8">100.0</text><text transform="translate(334.85,798.78) scale(0.86,1)" fill="#3c3c3c" stroke="#3c3c3c">7.7</text><text transform="translate(389.85,798.78) scale(0.86,1)" fill="#3c3c3c" stroke="#3c3c3c">11.3</text><text transform="translate(444.85,798.78) scale(0.86,1)" fill="#3c3c3c" stroke="#3c3c3c">10.3</text><text transform="translate(499.85,798.78) scale(0.86,1)" fill="#3c3c3c" stroke="#3c3c3c">10.7</text><text transform="translate(554.85,798.78) scale(0.86,1)" fill="#3c3c3c" stroke="#3c3c3c">10.3</text><text transform="translate(609.85,798.78) scale(0.86,1)" fill="#3c3c3c" stroke="#3c3c3c">10.3</text><text transform="translate(664.85,798.78) scale(0.86,1)" fill="#3c3c3c" stroke="#3c3c3c">10.3</text><text transform="translate(719.85,798.78) scale(0.86,1)" fill="#3c3c3c" stroke="#3c3c3c">11.0</text><text transform="translate(774.85,798.78) scale(0.86,1)" fill="#3c3c3c" stroke="#3c3c3c">11.3</text><text transform="translate(829.85,798.78) scale(0.86,1)" fill="#3c3c3c" stroke="#3c3c3c">11.2</text><text transform="translate(884.85,798.78) scale(0.86,1)" fill="#3c3c3c" stroke="#3c3c3c">10.9</text><text transform="translate(939.85,798.78) scale(0.86,1)" fill="#3c3c3c" stroke="#3c3c3c">10.7</text><text transform="translate(994.85,798.78) scale(0.86,1)" fill="#3c3c3c" stroke="#3c3c3c">10.8</text><text transform="translate(1049.85,798.78) scale(0.86,1)" fill="#3c3c3c" stroke="#3c3c3c">10.8</text><text transform="translate(1104.85,798.78) scale(0.86,1)" fill="#3c3c3c" stroke="#3c3c3c">10.7</text><text transform="translate(1159.85,798.78) scale(0.86,1)" fill="#3c3c3c" stroke="#3c3c3c">10.5</text><text transform="translate(1214.85,798.78) scale(0.86,1)" fill="#3c3c3c" stroke="#3c3c3c">11.0</text><text transform="translate(1269.85,798.78) scale(0.86,1)" fill="#3c3c3c" stroke="#3c3c3c">10.3</text><text transform="translate(1324.85,798.78) scale(0.86,1)" fill="#3c3c3c" stroke="#3c3c3c">10.9</text><text transform="translate(1379.85,798.78) scale(0.86,1)" fill="#3c3c3c" stroke="#3c3c3c">11.0</text><text transform="translate(334.85,853.78) scale(0.86,1)" fill="#c0c8e8" stroke="#c0c8e8">100.0</text><text transform="translate(389.85,853.78) scale(0.86,1)" fill="#3c3c3c" stroke="#3c3c3c">12.9</text><text transform="translate(444.85,853.78) scale(0.86,1)" fill="#3c3c3c" stroke="#3c3c3c">14.3</text><text transform="translate(499.85,853.78) scale(0.86,1)" fill="#3c3c3c" stroke="#3c3c3c">13.9</text><text transform="translate(554.85,853.78) scale(0.86,1)" fill="#3c3c3c" stroke="#3c3c3c">13.9</text><text transform="translate(609.85,853.78) scale(0.86,1)" fill="#3c3c3c" stroke="#3c3c3c">13.9</text><text transform="translate(664.85,853.78) scale(0.86,1)" fill="#3c3c3c" stroke="#3c3c3c">13.9</text><text transform="translate(719.85,853.78) scale(0.86,1)" fill="#3c3c3c" stroke="#3c3c3c">13.3</text><text transform="translate(774.85,853.78) scale(0.86,1)" fill="#3c3c3c" stroke="#3c3c3c">13.9</text><text transform="translate(829.85,853.78) scale(0.86,1)" fill="#3c3c3c" stroke="#3c3c3c">13.8</text><text transform="translate(884.85,853.78) scale(0.86,1)" fill="#3c3c3c" stroke="#3c3c3c">13.7</text><text transform="translate(939.85,853.78) scale(0.86,1)" fill="#3c3c3c" stroke="#3c3c3c">14.0</text><text transform="translate(994.85,853.78) scale(0.86,1)" fill="#3c3c3c" stroke="#3c3c3c">14.0</text><text transform="translate(1049.85,853.78) scale(0.86,1)" fill="#3c3c3c" stroke="#3c3c3c">14.0</text><text transform="translate(1104.85,853.78) scale(0.86,1)" fill="#3c3c3c" stroke="#3c3c3c">14.2</text><text transform="translate(1159.85,853.78) scale(0.86,1)" fill="#3c3c3c" stroke="#3c3c3c">14.3</text><text transform="translate(1214.85,853.78) scale(0.86,1)" fill="#3c3c3c" stroke="#3c3c3c">14.3</text><text transform="translate(1269.85,853.78) scale(0.86,1)" fill="#3c3c3c" stroke="#3c3c3c">14.1</text><text transform="translate(1324.85,853.78) scale(0.86,1)" fill="#3c3c3c" stroke="#3c3c3c">14.0</text><text transform="translate(1379.85,853.78) scale(0.86,1)" fill="#3c3c3c" stroke="#3c3c3c">13.9</text><text transform="translate(389.85,908.78) scale(0.86,1)" fill="#c0c8e8" stroke="#c0c8e8">100.0</text><text transform="translate(444.85,908.78) scale(0.86,1)" fill="#3c3c3c" stroke="#3c3c3c">14.7</text><text transform="translate(499.85,908.78) scale(0.86,1)" fill="#3c3c3c" stroke="#3c3c3c">14.5</text><text transform="translate(554.85,908.78) scale(0.86,1)" fill="#3c3c3c" stroke="#3c3c3c">14.2</text><text transform="translate(609.85,908.78) scale(0.86,1)" fill="#3c3c3c" stroke="#3c3c3c">14.2</text><text transform="translate(664.85,908.78) scale(0.86,1)" fill="#3c3c3c" stroke="#3c3c3c">14.2</text><text transform="translate(719.85,908.78) scale(0.86,1)" fill="#3c3c3c" stroke="#3c3c3c">14.6</text><text transform="translate(774.85,908.78) scale(0.86,1)" fill="#3c3c3c" stroke="#3c3c3c">14.8</text><text transform="translate(829.85,908.78) scale(0.86,1)" fill="#3c3c3c" stroke="#3c3c3c">14.5</text><text transform="translate(884.85,908.78) scale(0.86,1)" fill="#3c3c3c" stroke="#3c3c3c">14.8</text><text transform="translate(939.85,908.78) scale(0.86,1)" fill="#3c3c3c" stroke="#3c3c3c">14.8</text><text transform="translate(994.85,908.78) scale(0.86,1)" fill="#3c3c3c" stroke="#3c3c3c">14.4</text><text transform="translate(1049.85,908.78) scale(0.86,1)" fill="#3c3c3c" stroke="#3c3c3c">14.4</text><text transform="translate(1104.85,908.78) scale(0.86,1)" fill="#3c3c3c" stroke="#3c3c3c">14.6</text><text transform="translate(1159.85,908.78) scale(0.86,1)" fill="#3c3c3c" stroke="#3c3c3c">14.4</text><text transform="translate(1214.85,908.78) scale(0.86,1)" fill="#3c3c3c" stroke="#3c3c3c">14.5</text><text transform="translate(1269.85,908.78) scale(0.86,1)" fill="#3c3c3c" stroke="#3c3c3c">14.6</text><text transform="translate(1324.85,908.78) scale(0.86,1)" fill="#3c3c3c" stroke="#3c3c3c">14.8</text><text transform="translate(1379.85,908.78) scale(0.86,1)" fill="#3c3c3c" stroke="#3c3c3c">15.1</text><text transform="translate(444.85,963.78) scale(0.86,1)" fill="#c0c8e8" stroke="#c0c8e8">100.0</text><text transform="translate(499.85,963.78) scale(0.86,1)" fill="#dbe0f3" stroke="#dbe0f3">96.5</text><text transform="translate(554.85,963.78) scale(0.86,1)" fill="#dbe0f3" stroke="#dbe0f3">97.0</text><text transform="translate(609.85,963.78) scale(0.86,1)" fill="#dbe0f3" stroke="#dbe0f3">97.0</text><text transform="translate(664.85,963.78) scale(0.86,1)" fill="#dbe0f3" stroke="#dbe0f3">97.0</text><text transform="translate(719.85,963.78) scale(0.86,1)" fill="#dbe0f3" stroke="#dbe0f3">92.5</text><text transform="translate(774.85,963.78) scale(0.86,1)" fill="#dbe0f3" stroke="#dbe0f3">94.1</text><text transform="translate(829.85,963.78) scale(0.86,1)" fill="#dbe0f3" stroke="#dbe0f3">93.2</text><text transform="translate(884.85,963.78) scale(0.86,1)" fill="#dbe0f3" stroke="#dbe0f3">93.4</text><text transform="translate(939.85,963.78) scale(0.86,1)" fill="#dbe0f3" stroke="#dbe0f3">93.8</text><text transform="translate(994.85,963.78) scale(0.86,1)" fill="#dbe0f3" stroke="#dbe0f3">93.8</text><text transform="translate(1049.85,963.78) scale(0.86,1)" fill="#dbe0f3" stroke="#dbe0f3">93.8</text><text transform="translate(1104.85,963.78) scale(0.86,1)" fill="#dbe0f3" stroke="#dbe0f3">93.2</text><text transform="translate(1159.85,963.78) scale(0.86,1)" fill="#dbe0f3" stroke="#dbe0f3">94.0</text><text transform="translate(1214.85,963.78) scale(0.86,1)" fill="#dbe0f3" stroke="#dbe0f3">93.7</text><text transform="translate(1269.85,963.78) scale(0.86,1)" fill="#dbe0f3" stroke="#dbe0f3">94.0</text><text transform="translate(1324.85,963.78) scale(0.86,1)" fill="#dbe0f3" stroke="#dbe0f3">92.8</text><text transform="translate(1379.85,963.78) scale(0.86,1)" fill="#dbe0f3" stroke="#dbe0f3">93.0</text><text transform="translate(499.85,1018.78) scale(0.86,1)" fill="#c0c8e8" stroke="#c0c8e8">100.0</text><text transform="translate(554.85,1018.78) scale(0.86,1)" fill="#dbe0f3" stroke="#dbe0f3">97.5</text><text transform="translate(609.85,1018.78) scale(0.86,1)" fill="#dbe0f3" stroke="#dbe0f3">97.5</text><text transform="translate(664.85,1018.78) scale(0.86,1)" fill="#dbe0f3" stroke="#dbe0f3">97.5</text><text transform="translate(719.85,1018.78) scale(0.86,1)" fill="#dbe0f3" stroke="#dbe0f3">92.2</text><text transform="translate(774.85,1018.78) scale(0.86,1)" fill="#dbe0f3" stroke="#dbe0f3">93.1</text><text transform="translate(829.85,1018.78) scale(0.86,1)" fill="#dbe0f3" stroke="#dbe0f3">92.8</text><text transform="translate(884.85,1018.78) scale(0.86,1)" fill="#dbe0f3" stroke="#dbe0f3">93.3</text><text transform="translate(939.85,1018.78) scale(0.86,1)" fill="#dbe0f3" stroke="#dbe0f3">94.1</text><text transform="translate(994.85,1018.78) scale(0.86,1)" fill="#dbe0f3" stroke="#dbe0f3">93.8</text><text transform="translate(1049.85,1018.78) scale(0.86,1)" fill="#dbe0f3" stroke="#dbe0f3">93.8</text><text transform="translate(1104.85,1018.78) scale(0.86,1)" fill="#dbe0f3" stroke="#dbe0f3">93.2</text><text transform="translate(1159.85,1018.78) scale(0.86,1)" fill="#dbe0f3" stroke="#dbe0f3">94.2</text><text transform="translate(1214.85,1018.78) scale(0.86,1)" fill="#dbe0f3" stroke="#dbe0f3">93.2</text><text transform="translate(1269.85,1018.78) scale(0.86,1)" fill="#dbe0f3" stroke="#dbe0f3">93.4</text><text transform="translate(1324.85,1018.78) scale(0.86,1)" fill="#dbe0f3" stroke="#dbe0f3">92.8</text><text transform="translate(1379.85,1018.78) scale(0.86,1)" fill="#dbe0f3" stroke="#dbe0f3">93.2</text><text transform="translate(554.85,1073.78) scale(0.86,1)" fill="#c0c8e8" stroke="#c0c8e8">100.0</text><text transform="translate(609.85,1073.78) scale(0.86,1)" fill="#c0c8e8" stroke="#c0c8e8">100.0</text><text transform="translate(664.85,1073.78) scale(0.86,1)" fill="#c0c8e8" stroke="#c0c8e8">100.0</text><text transform="translate(719.85,1073.78) scale(0.86,1)" fill="#dbe0f3" stroke="#dbe0f3">91.6</text><text transform="translate(774.85,1073.78) scale(0.86,1)" fill="#dbe0f3" stroke="#dbe0f3">93.0</text><text transform="translate(829.85,1073.78) scale(0.86,1)" fill="#dbe0f3" stroke="#dbe0f3">92.6</text><text transform="translate(884.85,1073.78) scale(0.86,1)" fill="#dbe0f3" stroke="#dbe0f3">93.3</text><text transform="translate(939.85,1073.78) scale(0.86,1)" fill="#dbe0f3" stroke="#dbe0f3">94.1</text><text transform="translate(994.85,1073.78) scale(0.86,1)" fill="#dbe0f3" stroke="#dbe0f3">93.7</text><text transform="translate(1049.85,1073.78) scale(0.86,1)" fill="#dbe0f3" stroke="#dbe0f3">93.7</text><text transform="translate(1104.85,1073.78) scale(0.86,1)" fill="#dbe0f3" stroke="#dbe0f3">93.3</text><text transform="translate(1159.85,1073.78) scale(0.86,1)" fill="#dbe0f3" stroke="#dbe0f3">93.8</text><text transform="translate(1214.85,1073.78) scale(0.86,1)" fill="#dbe0f3" stroke="#dbe0f3">93.5</text><text transform="translate(1269.85,1073.78) scale(0.86,1)" fill="#dbe0f3" stroke="#dbe0f3">93.9</text><text transform="translate(1324.85,1073.78) scale(0.86,1)" fill="#dbe0f3" stroke="#dbe0f3">92.8</text><text transform="translate(1379.85,1073.78) scale(0.86,1)" fill="#dbe0f3" stroke="#dbe0f3">92.9</text><text transform="translate(609.85,1128.78) scale(0.86,1)" fill="#c0c8e8" stroke="#c0c8e8">100.0</text><text transform="translate(664.85,1128.78) scale(0.86,1)" fill="#c0c8e8" stroke="#c0c8e8">100.0</text><text transform="translate(719.85,1128.78) scale(0.86,1)" fill="#dbe0f3" stroke="#dbe0f3">91.9</text><text transform="translate(774.85,1128.78) scale(0.86,1)" fill="#dbe0f3" stroke="#dbe0f3">93.0</text><text transform="translate(829.85,1128.78) scale(0.86,1)" fill="#dbe0f3" stroke="#dbe0f3">92.9</text><text transform="translate(884.85,1128.78) scale(0.86,1)" fill="#dbe0f3" stroke="#dbe0f3">93.3</text><text transform="translate(939.85,1128.78) scale(0.86,1)" fill="#dbe0f3" stroke="#dbe0f3">94.1</text><text transform="translate(994.85,1128.78) scale(0.86,1)" fill="#dbe0f3" stroke="#dbe0f3">94.0</text><text transform="translate(1049.85,1128.78) scale(0.86,1)" fill="#dbe0f3" stroke="#dbe0f3">94.0</text><text transform="translate(1104.85,1128.78) scale(0.86,1)" fill="#dbe0f3" stroke="#dbe0f3">93.4</text><text transform="translate(1159.85,1128.78) scale(0.86,1)" fill="#dbe0f3" stroke="#dbe0f3">94.1</text><text transform="translate(1214.85,1128.78) scale(0.86,1)" fill="#dbe0f3" stroke="#dbe0f3">93.5</text><text transform="translate(1269.85,1128.78) scale(0.86,1)" fill="#dbe0f3" stroke="#dbe0f3">93.9</text><text transform="translate(1324.85,1128.78) scale(0.86,1)" fill="#dbe0f3" stroke="#dbe0f3">92.8</text><text transform="translate(1379.85,1128.78) scale(0.86,1)" fill="#dbe0f3" stroke="#dbe0f3">92.9</text><text transform="translate(664.85,1183.78) scale(0.86,1)" fill="#c0c8e8" stroke="#c0c8e8">100.0</text><text transform="translate(719.85,1183.78) scale(0.86,1)" fill="#dbe0f3" stroke="#dbe0f3">91.6</text><text transform="translate(774.85,1183.78) scale(0.86,1)" fill="#dbe0f3" stroke="#dbe0f3">93.0</text><text transform="translate(829.85,1183.78) scale(0.86,1)" fill="#dbe0f3" stroke="#dbe0f3">92.6</text><text transform="translate(884.85,1183.78) scale(0.86,1)" fill="#dbe0f3" stroke="#dbe0f3">93.3</text><text transform="translate(939.85,1183.78) scale(0.86,1)" fill="#dbe0f3" stroke="#dbe0f3">94.1</text><text transform="translate(994.85,1183.78) scale(0.86,1)" fill="#dbe0f3" stroke="#dbe0f3">93.7</text><text transform="translate(1049.85,1183.78) scale(0.86,1)" fill="#dbe0f3" stroke="#dbe0f3">93.7</text><text transform="translate(1104.85,1183.78) scale(0.86,1)" fill="#dbe0f3" stroke="#dbe0f3">93.4</text><text transform="translate(1159.85,1183.78) scale(0.86,1)" fill="#dbe0f3" stroke="#dbe0f3">93.8</text><text transform="translate(1214.85,1183.78) scale(0.86,1)" fill="#dbe0f3" stroke="#dbe0f3">93.5</text><text transform="translate(1269.85,1183.78) scale(0.86,1)" fill="#dbe0f3" stroke="#dbe0f3">93.9</text><text transform="translate(1324.85,1183.78) scale(0.86,1)" fill="#dbe0f3" stroke="#dbe0f3">92.8</text><text transform="translate(1379.85,1183.78) scale(0.86,1)" fill="#dbe0f3" stroke="#dbe0f3">92.9</text><text transform="translate(719.85,1238.78) scale(0.86,1)" fill="#c0c8e8" stroke="#c0c8e8">100.0</text><text transform="translate(774.85,1238.78) scale(0.86,1)" fill="#dbe0f3" stroke="#dbe0f3">94.8</text><text transform="translate(829.85,1238.78) scale(0.86,1)" fill="#dbe0f3" stroke="#dbe0f3">95.7</text><text transform="translate(884.85,1238.78) scale(0.86,1)" fill="#dbe0f3" stroke="#dbe0f3">94.9</text><text transform="translate(939.85,1238.78) scale(0.86,1)" fill="#dbe0f3" stroke="#dbe0f3">93.7</text><text transform="translate(994.85,1238.78) scale(0.86,1)" fill="#dbe0f3" stroke="#dbe0f3">94.1</text><text transform="translate(1049.85,1238.78) scale(0.86,1)" fill="#dbe0f3" stroke="#dbe0f3">94.1</text><text transform="translate(1104.85,1238.78) scale(0.86,1)" fill="#dbe0f3" stroke="#dbe0f3">94.5</text><text transform="translate(1159.85,1238.78) scale(0.86,1)" fill="#dbe0f3" stroke="#dbe0f3">95.0</text><text transform="translate(1214.85,1238.78) scale(0.86,1)" fill="#dbe0f3" stroke="#dbe0f3">95.2</text><text transform="translate(1269.85,1238.78) scale(0.86,1)" fill="#dbe0f3" stroke="#dbe0f3">94.7</text><text transform="translate(1324.85,1238.78) scale(0.86,1)" fill="#dbe0f3" stroke="#dbe0f3">94.6</text><text transform="translate(1379.85,1238.78) scale(0.86,1)" fill="#dbe0f3" stroke="#dbe0f3">95.3</text><text transform="translate(774.85,1293.78) scale(0.86,1)" fill="#c0c8e8" stroke="#c0c8e8">100.0</text><text transform="translate(829.85,1293.78) scale(0.86,1)" fill="#dbe0f3" stroke="#dbe0f3">96.0</text><text transform="translate(884.85,1293.78) scale(0.86,1)" fill="#dbe0f3" stroke="#dbe0f3">96.3</text><text transform="translate(939.85,1293.78) scale(0.86,1)" fill="#dbe0f3" stroke="#dbe0f3">93.4</text><text transform="translate(994.85,1293.78) scale(0.86,1)" fill="#dbe0f3" stroke="#dbe0f3">94.6</text><text transform="translate(1049.85,1293.78) scale(0.86,1)" fill="#dbe0f3" stroke="#dbe0f3">94.6</text><text transform="translate(1104.85,1293.78) scale(0.86,1)" fill="#dbe0f3" stroke="#dbe0f3">94.3</text><text transform="translate(1159.85,1293.78) scale(0.86,1)" fill="#dbe0f3" stroke="#dbe0f3">94.9</text><text transform="translate(1214.85,1293.78) scale(0.86,1)" fill="#dbe0f3" stroke="#dbe0f3">95.2</text><text transform="translate(1269.85,1293.78) scale(0.86,1)" fill="#dbe0f3" stroke="#dbe0f3">95.0</text><text transform="translate(1324.85,1293.78) scale(0.86,1)" fill="#dbe0f3" stroke="#dbe0f3">95.6</text><text transform="translate(1379.85,1293.78) scale(0.86,1)" fill="#dbe0f3" stroke="#dbe0f3">95.0</text><text transform="translate(829.85,1348.78) scale(0.86,1)" fill="#c0c8e8" stroke="#c0c8e8">100.0</text><text transform="translate(884.85,1348.78) scale(0.86,1)" fill="#dbe0f3" stroke="#dbe0f3">97.0</text><text transform="translate(939.85,1348.78) scale(0.86,1)" fill="#dbe0f3" stroke="#dbe0f3">94.0</text><text transform="translate(994.85,1348.78) scale(0.86,1)" fill="#dbe0f3" stroke="#dbe0f3">95.2</text><text transform="translate(1049.85,1348.78) scale(0.86,1)" fill="#dbe0f3" stroke="#dbe0f3">95.2</text><text transform="translate(1104.85,1348.78) scale(0.86,1)" fill="#dbe0f3" stroke="#dbe0f3">96.1</text><text transform="translate(1159.85,1348.78) scale(0.86,1)" fill="#dbe0f3" stroke="#dbe0f3">96.1</text><text transform="translate(1214.85,1348.78) scale(0.86,1)" fill="#dbe0f3" stroke="#dbe0f3">96.1</text><text transform="translate(1269.85,1348.78) scale(0.86,1)" fill="#dbe0f3" stroke="#dbe0f3">95.5</text><text transform="translate(1324.85,1348.78) scale(0.86,1)" fill="#dbe0f3" stroke="#dbe0f3">96.2</text><text transform="translate(1379.85,1348.78) scale(0.86,1)" fill="#dbe0f3" stroke="#dbe0f3">95.2</text><text transform="translate(884.85,1403.78) scale(0.86,1)" fill="#c0c8e8" stroke="#c0c8e8">100.0</text><text transform="translate(939.85,1403.78) scale(0.86,1)" fill="#dbe0f3" stroke="#dbe0f3">93.4</text><text transform="translate(994.85,1403.78) scale(0.86,1)" fill="#dbe0f3" stroke="#dbe0f3">94.5</text><text transform="translate(1049.85,1403.78) scale(0.86,1)" fill="#dbe0f3" stroke="#dbe0f3">94.5</text><text transform="translate(1104.85,1403.78) scale(0.86,1)" fill="#dbe0f3" stroke="#dbe0f3">95.4</text><text transform="translate(1159.85,1403.78) scale(0.86,1)" fill="#dbe0f3" stroke="#dbe0f3">95.7</text><text transform="translate(1214.85,1403.78) scale(0.86,1)" fill="#dbe0f3" stroke="#dbe0f3">95.0</text><text transform="translate(1269.85,1403.78) scale(0.86,1)" fill="#dbe0f3" stroke="#dbe0f3">94.6</text><text transform="translate(1324.85,1403.78) scale(0.86,1)" fill="#dbe0f3" stroke="#dbe0f3">95.5</text><text transform="translate(1379.85,1403.78) scale(0.86,1)" fill="#dbe0f3" stroke="#dbe0f3">94.8</text><text transform="translate(939.85,1458.78) scale(0.86,1)" fill="#c0c8e8" stroke="#c0c8e8">100.0</text><text transform="translate(994.85,1458.78) scale(0.86,1)" fill="#dbe0f3" stroke="#dbe0f3">95.5</text><text transform="translate(1049.85,1458.78) scale(0.86,1)" fill="#dbe0f3" stroke="#dbe0f3">95.5</text><text transform="translate(1104.85,1458.78) scale(0.86,1)" fill="#dbe0f3" stroke="#dbe0f3">95.3</text><text transform="translate(1159.85,1458.78) scale(0.86,1)" fill="#dbe0f3" stroke="#dbe0f3">95.7</text><text transform="translate(1214.85,1458.78) scale(0.86,1)" fill="#dbe0f3" stroke="#dbe0f3">95.1</text><text transform="translate(1269.85,1458.78) scale(0.86,1)" fill="#dbe0f3" stroke="#dbe0f3">95.5</text><text transform="translate(1324.85,1458.78) scale(0.86,1)" fill="#dbe0f3" stroke="#dbe0f3">94.6</text><text transform="translate(1379.85,1458.78) scale(0.86,1)" fill="#dbe0f3" stroke="#dbe0f3">95.0</text><text transform="translate(994.85,1513.78) scale(0.86,1)" fill="#c0c8e8" stroke="#c0c8e8">100.0</text><text transform="translate(1049.85,1513.78) scale(0.86,1)" fill="#c0c8e8" stroke="#c0c8e8">100.0</text><text transform="translate(1104.85,1513.78) scale(0.86,1)" fill="#dbe0f3" stroke="#dbe0f3">94.8</text><text transform="translate(1159.85,1513.78) scale(0.86,1)" fill="#dbe0f3" stroke="#dbe0f3">95.8</text><text transform="translate(1214.85,1513.78) scale(0.86,1)" fill="#dbe0f3" stroke="#dbe0f3">95.7</text><text transform="translate(1269.85,1513.78) scale(0.86,1)" fill="#dbe0f3" stroke="#dbe0f3">96.1</text><text transform="translate(1324.85,1513.78) scale(0.86,1)" fill="#dbe0f3" stroke="#dbe0f3">95.5</text><text transform="translate(1379.85,1513.78) scale(0.86,1)" fill="#dbe0f3" stroke="#dbe0f3">95.6</text><text transform="translate(1049.85,1568.78) scale(0.86,1)" fill="#c0c8e8" stroke="#c0c8e8">100.0</text><text transform="translate(1104.85,1568.78) scale(0.86,1)" fill="#dbe0f3" stroke="#dbe0f3">94.8</text><text transform="translate(1159.85,1568.78) scale(0.86,1)" fill="#dbe0f3" stroke="#dbe0f3">95.8</text><text transform="translate(1214.85,1568.78) scale(0.86,1)" fill="#dbe0f3" stroke="#dbe0f3">95.7</text><text transform="translate(1269.85,1568.78) scale(0.86,1)" fill="#dbe0f3" stroke="#dbe0f3">96.1</text><text transform="translate(1324.85,1568.78) scale(0.86,1)" fill="#dbe0f3" stroke="#dbe0f3">95.5</text><text transform="translate(1379.85,1568.78) scale(0.86,1)" fill="#dbe0f3" stroke="#dbe0f3">95.6</text><text transform="translate(1104.85,1623.78) scale(0.86,1)" fill="#c0c8e8" stroke="#c0c8e8">100.0</text><text transform="translate(1159.85,1623.78) scale(0.86,1)" fill="#dbe0f3" stroke="#dbe0f3">95.6</text><text transform="translate(1214.85,1623.78) scale(0.86,1)" fill="#dbe0f3" stroke="#dbe0f3">95.3</text><text transform="translate(1269.85,1623.78) scale(0.86,1)" fill="#dbe0f3" stroke="#dbe0f3">94.8</text><text transform="translate(1324.85,1623.78) scale(0.86,1)" fill="#dbe0f3" stroke="#dbe0f3">96.0</text><text transform="translate(1379.85,1623.78) scale(0.86,1)" fill="#dbe0f3" stroke="#dbe0f3">95.0</text><text transform="translate(1159.85,1678.78) scale(0.86,1)" fill="#c0c8e8" stroke="#c0c8e8">100.0</text><text transform="translate(1214.85,1678.78) scale(0.86,1)" fill="#dbe0f3" stroke="#dbe0f3">95.9</text><text transform="translate(1269.85,1678.78) scale(0.86,1)" fill="#dbe0f3" stroke="#dbe0f3">95.9</text><text transform="translate(1324.85,1678.78) scale(0.86,1)" fill="#dbe0f3" stroke="#dbe0f3">95.8</text><text transform="translate(1379.85,1678.78) scale(0.86,1)" fill="#dbe0f3" stroke="#dbe0f3">96.0</text><text transform="translate(1214.85,1733.78) scale(0.86,1)" fill="#c0c8e8" stroke="#c0c8e8">100.0</text><text transform="translate(1269.85,1733.78) scale(0.86,1)" fill="#dbe0f3" stroke="#dbe0f3">96.6</text><text transform="translate(1324.85,1733.78) scale(0.86,1)" fill="#dbe0f3" stroke="#dbe0f3">96.2</text><text transform="translate(1379.85,1733.78) scale(0.86,1)" fill="#dbe0f3" stroke="#dbe0f3">96.5</text><text transform="translate(1269.85,1788.78) scale(0.86,1)" fill="#c0c8e8" stroke="#c0c8e8">100.0</text><text transform="translate(1324.85,1788.78) scale(0.86,1)" fill="#dbe0f3" stroke="#dbe0f3">96.3</text><text transform="translate(1379.85,1788.78) scale(0.86,1)" fill="#dbe0f3" stroke="#dbe0f3">96.2</text><text transform="translate(1324.85,1843.78) scale(0.86,1)" fill="#c0c8e8" stroke="#c0c8e8">100.0</text><text transform="translate(1379.85,1843.78) scale(0.86,1)" fill="#dbe0f3" stroke="#dbe0f3">96.3</text><text transform="translate(1379.85,1898.78) scale(0.86,1)" fill="#c0c8e8" stroke="#c0c8e8">100.0</text></g>
<rect x="1303.7" y="31.7" width="45.3" height="508.5" rx="22.6" ry="22.6" fill="none" stroke="#2a2224" stroke-width="2.9"/>
<rect x="1410.7" y="1816.2" width="508.5" height="44.5" rx="22.2" ry="22.2" fill="none" stroke="#2a2224" stroke-width="2.9"/>
<g font-family="'Liberation Sans', Arial, sans-serif" font-size="29.0" font-style="italic" text-anchor="middle" fill="#242424" stroke="#242424" stroke-width="0.35">
<rect x="87.6" y="1238.25" width="197.2" height="45.2" rx="1.5" fill="#fddde3" stroke="#cfb2b8" stroke-width="1.6"/>
<text transform="translate(186,1273.08) scale(0.9362,1)">Pbunavirus</text>
<rect x="87.6" y="1302.68" width="197.2" height="45.2" rx="1.5" fill="#bdfad5" stroke="#92c4a6" stroke-width="1.6"/>
<text transform="translate(186,1337.51) scale(0.9362,1)">Bcepfunavirus</text>
<rect x="87.6" y="1367.11" width="197.2" height="45.2" rx="1.5" fill="#fcfcb8" stroke="#c8c890" stroke-width="1.6"/>
<text transform="translate(186,1401.94) scale(0.9362,1)">Carpasinavirus</text>
<rect x="87.6" y="1431.54" width="197.2" height="45.2" rx="1.5" fill="#e1e1e1" stroke="#b9b9b9" stroke-width="1.6"/>
<text transform="translate(186,1466.37) scale(0.9362,1)">Gofduovirus</text>
<rect x="87.6" y="1495.97" width="197.2" height="45.2" rx="1.5" fill="#fddfa5" stroke="#c9ad80" stroke-width="1.6"/>
<text transform="translate(186,1530.80) scale(0.9362,1)">Kylevirus</text>
<rect x="87.6" y="1560.40" width="197.2" height="45.2" rx="1.5" fill="#f3ccfc" stroke="#b596bc" stroke-width="1.6"/>
<text transform="translate(186,1595.23) scale(0.9362,1)">Myosmarvirus</text>
<rect x="87.6" y="1624.83" width="197.2" height="45.2" rx="1.5" fill="#d2f2fc" stroke="#a2bec6" stroke-width="1.6"/>
<text transform="translate(186,1659.66) scale(0.9362,1)">Wifcevirus</text>
</g>
<defs><linearGradient id="cb" x1="0" y1="0" x2="1" y2="0"><stop offset="0.00" stop-color="#ffffff"/><stop offset="0.20" stop-color="#ffffd9"/><stop offset="0.40" stop-color="#edf8b1"/><stop offset="0.50" stop-color="#c7e9b4"/><stop offset="0.60" stop-color="#7fcdbb"/><stop offset="0.70" stop-color="#41b6c4"/><stop offset="0.80" stop-color="#1d91c0"/><stop offset="0.90" stop-color="#2462b4"/><stop offset="0.95" stop-color="#2836a6"/><stop offset="1.00" stop-color="#0d1d64"/></linearGradient></defs>
<rect x="84.8" y="1839.5" width="380.4" height="37.5" fill="url(#cb)"/>
<line x1="84.8" y1="1839.5" x2="84.8" y2="1877" stroke="#d0d0d0" stroke-width="1.2"/>
<line x1="84.8" y1="1877" x2="465.2" y2="1877" stroke="#9a9a92" stroke-width="1.6"/>
<g font-family="'Liberation Sans', Arial, sans-serif" font-size="21" text-anchor="middle" fill="#5e5e5e" stroke="#5e5e5e" stroke-width="0.9">
<text transform="translate(85.80,1893.6) scale(0.9,1)">0</text>
<text transform="translate(161.88,1893.6) scale(0.9,1)">20</text>
<text transform="translate(237.96,1893.6) scale(0.9,1)">40</text>
<text transform="translate(276.00,1893.6) scale(0.9,1)">50</text>
<text transform="translate(314.04,1893.6) scale(0.9,1)">60</text>
<text transform="translate(352.08,1893.6) scale(0.9,1)">70</text>
<text transform="translate(390.12,1893.6) scale(0.9,1)">80</text>
<text transform="translate(428.16,1893.6) scale(0.9,1)">90</text>
<text transform="translate(466.20,1893.6) scale(0.9,1)">100</text>
</g>
<text transform="translate(111.6,1825.6) scale(1.06,1)" font-family="'DejaVu Sans', sans-serif" font-size="27" fill="#2e2e2e" stroke="#2e2e2e" stroke-width="0.3">Intergenomic similarity</text>
</svg>
</body></html>
